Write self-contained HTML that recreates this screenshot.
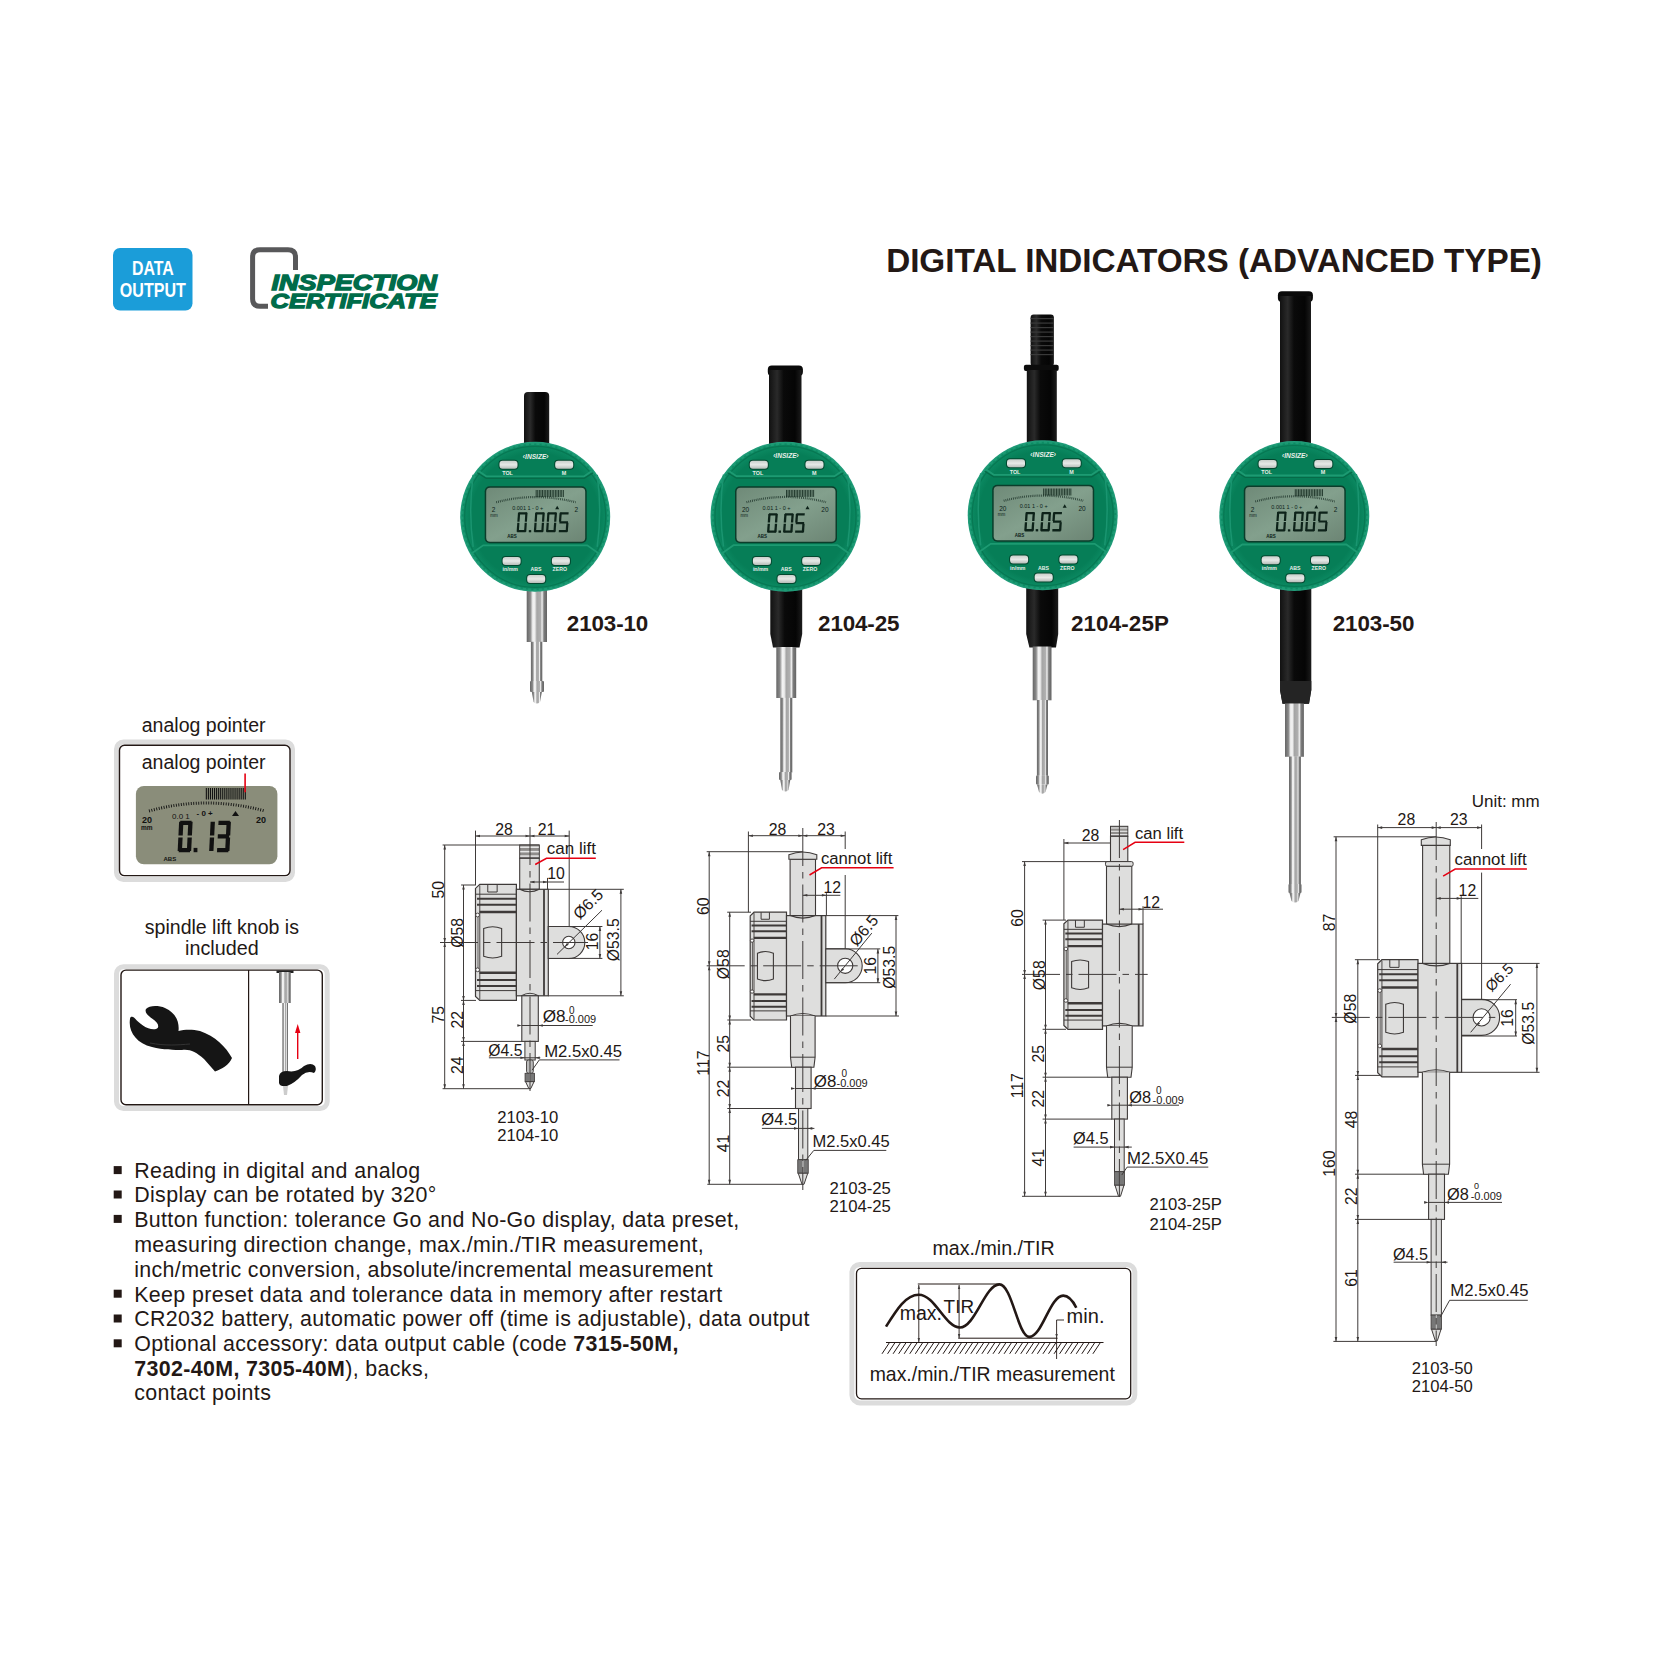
<!DOCTYPE html>
<html><head><meta charset="utf-8"><style>
html,body{margin:0;padding:0;background:#fff;}
svg{display:block;}
text{font-family:"Liberation Sans",sans-serif;}
</style></head><body>
<svg width="1653" height="1653" viewBox="0 0 1653 1653">
<rect width="1653" height="1653" fill="#fff"/>
<rect x="113" y="248" width="79.5" height="62.5" rx="7" fill="#1b9dd9"/>
<text x="131.95" y="275" font-size="19.3" font-weight="bold" fill="#fff" textLength="41.81" lengthAdjust="spacingAndGlyphs">DATA</text>
<text x="119.83" y="297" font-size="19.3" font-weight="bold" fill="#fff" textLength="65.98" lengthAdjust="spacingAndGlyphs">OUTPUT</text>
<path d="M268 306.3 H260 Q252.6 306.3 252.6 299 V257 Q252.6 249.8 260 249.8 H288 Q295.5 249.8 295.5 257 V270" fill="none" stroke="#58585a" stroke-width="5"/>
<g transform="translate(270.5 0) skewX(-14) scale(1 1)">
</g>
<text x="271.58" y="289.9" font-size="21.2" font-weight="bold" font-style="italic" fill="#006c4a" textLength="165.24" lengthAdjust="spacingAndGlyphs" stroke="#006c4a" stroke-width="1.3">INSPECTION</text>
<text x="270.48" y="308.4" font-size="20.4" font-weight="bold" font-style="italic" fill="#006c4a" textLength="166.29" lengthAdjust="spacingAndGlyphs" stroke="#006c4a" stroke-width="1.3">CERTIFICATE</text>
<text x="886.14" y="271.9" font-size="33.3" font-weight="bold" fill="#231815" textLength="655.82" lengthAdjust="spacing">DIGITAL INDICATORS (ADVANCED TYPE)</text>
<text x="566.82" y="630.9" font-size="22.4" font-weight="bold" fill="#231815" textLength="81.48" lengthAdjust="spacing">2103-10</text>
<text x="818.12" y="630.7" font-size="22.4" font-weight="bold" fill="#231815" textLength="81.35" lengthAdjust="spacing">2104-25</text>
<text x="1070.92" y="630.7" font-size="22.4" font-weight="bold" fill="#231815" textLength="98" lengthAdjust="spacing">2104-25P</text>
<text x="1332.72" y="630.7" font-size="22.4" font-weight="bold" fill="#231815" textLength="81.68" lengthAdjust="spacing">2103-50</text>
<defs>
<linearGradient id="blk" x1="0" x2="1" y1="0" y2="0">
 <stop offset="0" stop-color="#111"/><stop offset="0.25" stop-color="#2a2a2a"/><stop offset="0.45" stop-color="#0a0a0a"/><stop offset="0.8" stop-color="#050505"/><stop offset="1" stop-color="#1c1c1c"/>
</linearGradient>
<linearGradient id="met" x1="0" x2="1" y1="0" y2="0">
 <stop offset="0" stop-color="#666"/><stop offset="0.18" stop-color="#8a8a8a"/><stop offset="0.3" stop-color="#f2f2f2"/><stop offset="0.4" stop-color="#ededed"/><stop offset="0.5" stop-color="#a5a5a5"/><stop offset="0.68" stop-color="#b0b0b0"/><stop offset="0.76" stop-color="#f0f0f0"/><stop offset="0.85" stop-color="#7d7d7d"/><stop offset="1" stop-color="#646464"/>
</linearGradient>
<radialGradient id="face" cx="0.5" cy="0.5" r="0.5">
 <stop offset="0.85" stop-color="#067e57"/><stop offset="0.97" stop-color="#0d8c64"/><stop offset="1" stop-color="#2aa283"/>
</radialGradient>
<linearGradient id="lcdg" x1="0" x2="1" y1="0" y2="1">
 <stop offset="0" stop-color="#6f8a78"/><stop offset="0.5" stop-color="#83a08d"/><stop offset="1" stop-color="#6c8574"/>
</linearGradient>
<linearGradient id="btn" x1="0" x2="0" y1="0" y2="1">
 <stop offset="0" stop-color="#c9cfcb"/><stop offset="0.5" stop-color="#e6e9e7"/><stop offset="1" stop-color="#b7bdb9"/>
</linearGradient>
</defs>
<rect x="524" y="392" width="25.2" height="56" rx="4" fill="url(#blk)" />
<rect x="526.7" y="585" width="20.3" height="57" rx="0" fill="url(#met)" />
<rect x="530.9" y="641.8" width="11.4" height="40.2" rx="0" fill="url(#met)" />
<rect x="530" y="681" width="14" height="11" rx="1" fill="url(#met)" />
<path d="M531.8 692 L541.9 692 L540 702 Q536.8 705 533.6 702 Z" fill="url(#met)"/>
<circle cx="535.2" cy="516.8" r="75" fill="url(#face)"/><circle cx="535.2" cy="516.8" r="73.2" fill="none" stroke="#1f9c76" stroke-width="2.6" stroke-dasharray="3.2 2.2" opacity="0.8"/><circle cx="535.2" cy="516.8" r="70.5" fill="none" stroke="#05704d" stroke-width="1.2" opacity="0.7"/><path d="M478.2 470.8 L486.2 476.3 H584.2 L592.2 470.8" fill="none" stroke="#1d9a72" stroke-width="1.8"/><path d="M477.2 472.8 L486.2 478.3 H584.2 L593.2 472.8" fill="none" stroke="#066b48" stroke-width="1.2"/><path d="M471.2 553.8 L483.2 545.3 H587.2 L599.2 553.8" fill="none" stroke="#1d9a72" stroke-width="1.8"/><path d="M473.2 474.8 Q468.2 510.8 473.2 546.8" fill="none" stroke="#1a9570" stroke-width="1.5"/><path d="M597.2 474.8 Q602.2 510.8 597.2 546.8" fill="none" stroke="#1a9570" stroke-width="1.5"/><rect x="484.7" y="486.3" width="102" height="57" rx="5" fill="#0b3d2b" /><rect x="486.2" y="487.8" width="99" height="54" rx="4" fill="url(#lcdg)" /><rect x="535.7" y="490" width="0.9" height="7" rx="0" fill="#0d2219" opacity="0.85"/><rect x="537.3" y="490" width="0.9" height="7" rx="0" fill="#0d2219" opacity="0.85"/><rect x="538.9" y="490" width="0.9" height="7" rx="0" fill="#0d2219" opacity="0.85"/><rect x="540.5" y="490" width="0.9" height="7" rx="0" fill="#0d2219" opacity="0.85"/><rect x="542.1" y="490" width="0.9" height="7" rx="0" fill="#0d2219" opacity="0.85"/><rect x="543.7" y="490" width="0.9" height="7" rx="0" fill="#0d2219" opacity="0.85"/><rect x="545.3" y="490" width="0.9" height="7" rx="0" fill="#0d2219" opacity="0.85"/><rect x="546.9" y="490" width="0.9" height="7" rx="0" fill="#0d2219" opacity="0.85"/><rect x="548.5" y="490" width="0.9" height="7" rx="0" fill="#0d2219" opacity="0.85"/><rect x="550.1" y="490" width="0.9" height="7" rx="0" fill="#0d2219" opacity="0.85"/><rect x="551.7" y="490" width="0.9" height="7" rx="0" fill="#0d2219" opacity="0.85"/><rect x="553.3" y="490" width="0.9" height="7" rx="0" fill="#0d2219" opacity="0.85"/><rect x="554.9" y="490" width="0.9" height="7" rx="0" fill="#0d2219" opacity="0.85"/><rect x="556.5" y="490" width="0.9" height="7" rx="0" fill="#0d2219" opacity="0.85"/><rect x="558.1" y="490" width="0.9" height="7" rx="0" fill="#0d2219" opacity="0.85"/><rect x="559.7" y="490" width="0.9" height="7" rx="0" fill="#0d2219" opacity="0.85"/><rect x="561.3" y="490" width="0.9" height="7" rx="0" fill="#0d2219" opacity="0.85"/><rect x="562.9" y="490" width="0.9" height="7" rx="0" fill="#0d2219" opacity="0.85"/><path d="M496.2 502.3 Q535.2 491.8 575.7 502.3" fill="none" stroke="#0d2219" stroke-width="2.2" stroke-dasharray="0.8 1.1" opacity="0.75"/><text x="512.2" y="509.6" font-size="5.5" fill="#0d2219">0.001 1 - 0 +</text><path d="M555.2 509.3 l2 -3.5 l2 3.5z" fill="#0d2219"/><text x="491.7" y="512.3" font-size="6.5" fill="#0d2219">2</text><text x="578.2" y="512.3" font-size="6.5" fill="#0d2219" text-anchor="end">2</text><text x="490.2" y="517.3" font-size="4.5" fill="#0d2219">mm</text><text x="507.2" y="538.3" font-size="4.5" font-weight="bold" fill="#0d2219">ABS</text><polygon points="518.55,512.3 527.05,512.3 526.9,514.5 518.4,514.5" fill="#0d2219"/><polygon points="525.36,512.85 527.56,512.85 526.94,521.75 524.74,521.75" fill="#0d2219"/><polygon points="524.66,522.85 526.86,522.85 526.24,531.75 524.04,531.75" fill="#0d2219"/><polygon points="517.3,530.1 525.8,530.1 525.65,532.3 517.15,532.3" fill="#0d2219"/><polygon points="517.26,522.85 519.46,522.85 518.84,531.75 516.64,531.75" fill="#0d2219"/><polygon points="517.96,512.85 520.16,512.85 519.54,521.75 517.34,521.75" fill="#0d2219"/><rect x="528.8" y="530.1" width="2.4" height="2.2" fill="#0d2219"/><polygon points="535.75,512.3 544.25,512.3 544.1,514.5 535.6,514.5" fill="#0d2219"/><polygon points="542.56,512.85 544.76,512.85 544.14,521.75 541.94,521.75" fill="#0d2219"/><polygon points="541.86,522.85 544.06,522.85 543.44,531.75 541.24,531.75" fill="#0d2219"/><polygon points="534.5,530.1 543,530.1 542.85,532.3 534.35,532.3" fill="#0d2219"/><polygon points="534.46,522.85 536.66,522.85 536.04,531.75 533.84,531.75" fill="#0d2219"/><polygon points="535.16,512.85 537.36,512.85 536.74,521.75 534.54,521.75" fill="#0d2219"/><polygon points="547.95,512.3 556.45,512.3 556.3,514.5 547.8,514.5" fill="#0d2219"/><polygon points="554.76,512.85 556.96,512.85 556.34,521.75 554.14,521.75" fill="#0d2219"/><polygon points="554.06,522.85 556.26,522.85 555.64,531.75 553.44,531.75" fill="#0d2219"/><polygon points="546.7,530.1 555.2,530.1 555.05,532.3 546.55,532.3" fill="#0d2219"/><polygon points="546.66,522.85 548.86,522.85 548.24,531.75 546.04,531.75" fill="#0d2219"/><polygon points="547.36,512.85 549.56,512.85 548.94,521.75 546.74,521.75" fill="#0d2219"/><polygon points="560.15,512.3 568.65,512.3 568.5,514.5 560,514.5" fill="#0d2219"/><polygon points="559.56,512.85 561.76,512.85 561.14,521.75 558.94,521.75" fill="#0d2219"/><polygon points="559.53,521.2 568.03,521.2 567.87,523.4 559.37,523.4" fill="#0d2219"/><polygon points="566.26,522.85 568.46,522.85 567.84,531.75 565.64,531.75" fill="#0d2219"/><polygon points="558.9,530.1 567.4,530.1 567.25,532.3 558.75,532.3" fill="#0d2219"/><rect x="498.5" y="459.8" width="20" height="10" rx="4" fill="#02482f" /><rect x="499.5" y="460.8" width="18" height="8" rx="3" fill="url(#btn)" /><rect x="554.2" y="459.8" width="20" height="10" rx="4" fill="#02482f" /><rect x="555.2" y="460.8" width="18" height="8" rx="3" fill="url(#btn)" /><rect x="501.6" y="556" width="20" height="10" rx="4" fill="#02482f" /><rect x="502.6" y="557" width="18" height="8" rx="3" fill="url(#btn)" /><rect x="550.9" y="556" width="20" height="10" rx="4" fill="#02482f" /><rect x="551.9" y="557" width="18" height="8" rx="3" fill="url(#btn)" /><rect x="526.2" y="574" width="20" height="10" rx="4" fill="#02482f" /><rect x="527.2" y="575" width="18" height="8" rx="3" fill="url(#btn)" /><text x="502.2" y="475.2" font-size="5.4" font-weight="bold" fill="#e8efe9">TOL</text><text x="561.7" y="475.2" font-size="5.4" font-weight="bold" fill="#e8efe9">M</text><text x="502.6" y="571" font-size="5.2" font-weight="bold" fill="#e8efe9">in/mm</text><text x="530.5" y="571" font-size="5.2" font-weight="bold" fill="#e8efe9">ABS</text><text x="552.5" y="571" font-size="5.2" font-weight="bold" fill="#e8efe9">ZERO</text><text x="535.7" y="458.5" font-size="6.6" font-weight="bold" font-style="italic" fill="#e8efe9" text-anchor="middle">&#x2039;INSIZE&#x203a;</text>
<rect x="767.8" y="365.5" width="35.1" height="10.5" rx="4" fill="#0a0a0a" />
<rect x="769" y="370" width="32.5" height="80" rx="0" fill="url(#blk)" />
<path d="M770.3 580 H802.2 V634 L799.5 647.5 H773 L770.3 634 Z" fill="url(#blk)"/>
<rect x="776.3" y="647" width="19.9" height="51" rx="0" fill="url(#met)" />
<rect x="780.3" y="697.8" width="12" height="74.7" rx="0" fill="url(#met)" />
<rect x="779" y="772" width="12.6" height="8" rx="1" fill="url(#met)" />
<path d="M780.3 780 L790.3 780 L788.5 790 Q785.3 793 782 790 Z" fill="url(#met)"/>
<circle cx="785.5" cy="516.7" r="75" fill="url(#face)"/><circle cx="785.5" cy="516.7" r="73.2" fill="none" stroke="#1f9c76" stroke-width="2.6" stroke-dasharray="3.2 2.2" opacity="0.8"/><circle cx="785.5" cy="516.7" r="70.5" fill="none" stroke="#05704d" stroke-width="1.2" opacity="0.7"/><path d="M728.5 470.7 L736.5 476.2 H834.5 L842.5 470.7" fill="none" stroke="#1d9a72" stroke-width="1.8"/><path d="M727.5 472.7 L736.5 478.2 H834.5 L843.5 472.7" fill="none" stroke="#066b48" stroke-width="1.2"/><path d="M721.5 553.7 L733.5 545.2 H837.5 L849.5 553.7" fill="none" stroke="#1d9a72" stroke-width="1.8"/><path d="M723.5 474.7 Q718.5 510.7 723.5 546.7" fill="none" stroke="#1a9570" stroke-width="1.5"/><path d="M847.5 474.7 Q852.5 510.7 847.5 546.7" fill="none" stroke="#1a9570" stroke-width="1.5"/><rect x="735" y="486.2" width="102" height="57" rx="5" fill="#0b3d2b" /><rect x="736.5" y="487.7" width="99" height="54" rx="4" fill="url(#lcdg)" /><rect x="786" y="489.9" width="0.9" height="7" rx="0" fill="#0d2219" opacity="0.85"/><rect x="787.6" y="489.9" width="0.9" height="7" rx="0" fill="#0d2219" opacity="0.85"/><rect x="789.2" y="489.9" width="0.9" height="7" rx="0" fill="#0d2219" opacity="0.85"/><rect x="790.8" y="489.9" width="0.9" height="7" rx="0" fill="#0d2219" opacity="0.85"/><rect x="792.4" y="489.9" width="0.9" height="7" rx="0" fill="#0d2219" opacity="0.85"/><rect x="794" y="489.9" width="0.9" height="7" rx="0" fill="#0d2219" opacity="0.85"/><rect x="795.6" y="489.9" width="0.9" height="7" rx="0" fill="#0d2219" opacity="0.85"/><rect x="797.2" y="489.9" width="0.9" height="7" rx="0" fill="#0d2219" opacity="0.85"/><rect x="798.8" y="489.9" width="0.9" height="7" rx="0" fill="#0d2219" opacity="0.85"/><rect x="800.4" y="489.9" width="0.9" height="7" rx="0" fill="#0d2219" opacity="0.85"/><rect x="802" y="489.9" width="0.9" height="7" rx="0" fill="#0d2219" opacity="0.85"/><rect x="803.6" y="489.9" width="0.9" height="7" rx="0" fill="#0d2219" opacity="0.85"/><rect x="805.2" y="489.9" width="0.9" height="7" rx="0" fill="#0d2219" opacity="0.85"/><rect x="806.8" y="489.9" width="0.9" height="7" rx="0" fill="#0d2219" opacity="0.85"/><rect x="808.4" y="489.9" width="0.9" height="7" rx="0" fill="#0d2219" opacity="0.85"/><rect x="810" y="489.9" width="0.9" height="7" rx="0" fill="#0d2219" opacity="0.85"/><rect x="811.6" y="489.9" width="0.9" height="7" rx="0" fill="#0d2219" opacity="0.85"/><rect x="813.2" y="489.9" width="0.9" height="7" rx="0" fill="#0d2219" opacity="0.85"/><path d="M746.5 502.2 Q785.5 491.7 826 502.2" fill="none" stroke="#0d2219" stroke-width="2.2" stroke-dasharray="0.8 1.1" opacity="0.75"/><text x="762.5" y="509.5" font-size="5.5" fill="#0d2219">0.01 1  - 0 +</text><path d="M805.5 509.2 l2 -3.5 l2 3.5z" fill="#0d2219"/><text x="742" y="512.2" font-size="6.5" fill="#0d2219">20</text><text x="828.5" y="512.2" font-size="6.5" fill="#0d2219" text-anchor="end">20</text><text x="740.5" y="517.2" font-size="4.5" fill="#0d2219">mm</text><text x="757.5" y="538.2" font-size="4.5" font-weight="bold" fill="#0d2219">ABS</text><polygon points="768.94,513.3 777.29,513.3 777.13,515.6 768.78,515.6" fill="#0d2219"/><polygon points="775.52,513.88 777.82,513.88 777.22,522.48 774.92,522.48" fill="#0d2219"/><polygon points="774.84,523.63 777.14,523.63 776.54,532.23 774.24,532.23" fill="#0d2219"/><polygon points="767.74,530.5 776.09,530.5 775.92,532.8 767.58,532.8" fill="#0d2219"/><polygon points="767.64,523.63 769.94,523.63 769.34,532.23 767.04,532.23" fill="#0d2219"/><polygon points="768.32,513.88 770.62,513.88 770.02,522.48 767.72,522.48" fill="#0d2219"/><rect x="778.5" y="530.5" width="2.5" height="2.3" fill="#0d2219"/><polygon points="784.94,513.3 793.29,513.3 793.13,515.6 784.78,515.6" fill="#0d2219"/><polygon points="791.52,513.88 793.82,513.88 793.22,522.48 790.92,522.48" fill="#0d2219"/><polygon points="790.84,523.63 793.14,523.63 792.54,532.23 790.24,532.23" fill="#0d2219"/><polygon points="783.74,530.5 792.09,530.5 791.92,532.8 783.58,532.8" fill="#0d2219"/><polygon points="783.64,523.63 785.94,523.63 785.34,532.23 783.04,532.23" fill="#0d2219"/><polygon points="784.32,513.88 786.62,513.88 786.02,522.48 783.72,522.48" fill="#0d2219"/><polygon points="796.44,513.3 804.79,513.3 804.63,515.6 796.28,515.6" fill="#0d2219"/><polygon points="795.82,513.88 798.12,513.88 797.52,522.48 795.22,522.48" fill="#0d2219"/><polygon points="795.84,521.9 804.19,521.9 804.03,524.2 795.68,524.2" fill="#0d2219"/><polygon points="802.34,523.63 804.64,523.63 804.04,532.23 801.74,532.23" fill="#0d2219"/><polygon points="795.24,530.5 803.59,530.5 803.42,532.8 795.08,532.8" fill="#0d2219"/><rect x="748.8" y="459.7" width="20" height="10" rx="4" fill="#02482f" /><rect x="749.8" y="460.7" width="18" height="8" rx="3" fill="url(#btn)" /><rect x="804.5" y="459.7" width="20" height="10" rx="4" fill="#02482f" /><rect x="805.5" y="460.7" width="18" height="8" rx="3" fill="url(#btn)" /><rect x="751.9" y="555.9" width="20" height="10" rx="4" fill="#02482f" /><rect x="752.9" y="556.9" width="18" height="8" rx="3" fill="url(#btn)" /><rect x="801.2" y="555.9" width="20" height="10" rx="4" fill="#02482f" /><rect x="802.2" y="556.9" width="18" height="8" rx="3" fill="url(#btn)" /><rect x="776.5" y="573.9" width="20" height="10" rx="4" fill="#02482f" /><rect x="777.5" y="574.9" width="18" height="8" rx="3" fill="url(#btn)" /><text x="752.5" y="475.1" font-size="5.4" font-weight="bold" fill="#e8efe9">TOL</text><text x="812" y="475.1" font-size="5.4" font-weight="bold" fill="#e8efe9">M</text><text x="752.9" y="570.9" font-size="5.2" font-weight="bold" fill="#e8efe9">in/mm</text><text x="780.8" y="570.9" font-size="5.2" font-weight="bold" fill="#e8efe9">ABS</text><text x="802.8" y="570.9" font-size="5.2" font-weight="bold" fill="#e8efe9">ZERO</text><text x="786" y="458.4" font-size="6.6" font-weight="bold" font-style="italic" fill="#e8efe9" text-anchor="middle">&#x2039;INSIZE&#x203a;</text>
<rect x="1030.6" y="314.5" width="23.3" height="51.5" rx="3" fill="url(#blk)" />
<rect x="1030.6" y="318" width="23.3" height="1.2" rx="0" fill="#3a3a3a" />
<rect x="1030.6" y="322.5" width="23.3" height="1.2" rx="0" fill="#3a3a3a" />
<rect x="1030.6" y="327" width="23.3" height="1.2" rx="0" fill="#3a3a3a" />
<rect x="1030.6" y="331.5" width="23.3" height="1.2" rx="0" fill="#3a3a3a" />
<rect x="1030.6" y="336" width="23.3" height="1.2" rx="0" fill="#3a3a3a" />
<rect x="1030.6" y="340.5" width="23.3" height="1.2" rx="0" fill="#3a3a3a" />
<rect x="1030.6" y="345" width="23.3" height="1.2" rx="0" fill="#3a3a3a" />
<rect x="1030.6" y="349.5" width="23.3" height="1.2" rx="0" fill="#3a3a3a" />
<rect x="1030.6" y="354" width="23.3" height="1.2" rx="0" fill="#3a3a3a" />
<rect x="1023.9" y="364.8" width="34.8" height="6.2" rx="2" fill="#0c0c0c" />
<rect x="1026.8" y="370" width="30" height="80" rx="0" fill="url(#blk)" />
<path d="M1026.2 580 H1058.2 V634 L1056 647.4 H1029.4 L1026.2 634 Z" fill="url(#blk)"/>
<rect x="1032.7" y="646.5" width="18.8" height="53.8" rx="0" fill="url(#met)" />
<rect x="1036.9" y="700" width="11.1" height="75.8" rx="0" fill="url(#met)" />
<rect x="1036" y="775.5" width="12.8" height="9" rx="1" fill="url(#met)" />
<path d="M1037 784.5 L1047.5 784.5 L1045.5 792 Q1042.3 795.5 1039 792 Z" fill="url(#met)"/>
<circle cx="1042.7" cy="515.3" r="75" fill="url(#face)"/><circle cx="1042.7" cy="515.3" r="73.2" fill="none" stroke="#1f9c76" stroke-width="2.6" stroke-dasharray="3.2 2.2" opacity="0.8"/><circle cx="1042.7" cy="515.3" r="70.5" fill="none" stroke="#05704d" stroke-width="1.2" opacity="0.7"/><path d="M985.7 469.3 L993.7 474.8 H1091.7 L1099.7 469.3" fill="none" stroke="#1d9a72" stroke-width="1.8"/><path d="M984.7 471.3 L993.7 476.8 H1091.7 L1100.7 471.3" fill="none" stroke="#066b48" stroke-width="1.2"/><path d="M978.7 552.3 L990.7 543.8 H1094.7 L1106.7 552.3" fill="none" stroke="#1d9a72" stroke-width="1.8"/><path d="M980.7 473.3 Q975.7 509.3 980.7 545.3" fill="none" stroke="#1a9570" stroke-width="1.5"/><path d="M1104.7 473.3 Q1109.7 509.3 1104.7 545.3" fill="none" stroke="#1a9570" stroke-width="1.5"/><rect x="992.2" y="484.8" width="102" height="57" rx="5" fill="#0b3d2b" /><rect x="993.7" y="486.3" width="99" height="54" rx="4" fill="url(#lcdg)" /><rect x="1043.2" y="488.5" width="0.9" height="7" rx="0" fill="#0d2219" opacity="0.85"/><rect x="1044.8" y="488.5" width="0.9" height="7" rx="0" fill="#0d2219" opacity="0.85"/><rect x="1046.4" y="488.5" width="0.9" height="7" rx="0" fill="#0d2219" opacity="0.85"/><rect x="1048" y="488.5" width="0.9" height="7" rx="0" fill="#0d2219" opacity="0.85"/><rect x="1049.6" y="488.5" width="0.9" height="7" rx="0" fill="#0d2219" opacity="0.85"/><rect x="1051.2" y="488.5" width="0.9" height="7" rx="0" fill="#0d2219" opacity="0.85"/><rect x="1052.8" y="488.5" width="0.9" height="7" rx="0" fill="#0d2219" opacity="0.85"/><rect x="1054.4" y="488.5" width="0.9" height="7" rx="0" fill="#0d2219" opacity="0.85"/><rect x="1056" y="488.5" width="0.9" height="7" rx="0" fill="#0d2219" opacity="0.85"/><rect x="1057.6" y="488.5" width="0.9" height="7" rx="0" fill="#0d2219" opacity="0.85"/><rect x="1059.2" y="488.5" width="0.9" height="7" rx="0" fill="#0d2219" opacity="0.85"/><rect x="1060.8" y="488.5" width="0.9" height="7" rx="0" fill="#0d2219" opacity="0.85"/><rect x="1062.4" y="488.5" width="0.9" height="7" rx="0" fill="#0d2219" opacity="0.85"/><rect x="1064" y="488.5" width="0.9" height="7" rx="0" fill="#0d2219" opacity="0.85"/><rect x="1065.6" y="488.5" width="0.9" height="7" rx="0" fill="#0d2219" opacity="0.85"/><rect x="1067.2" y="488.5" width="0.9" height="7" rx="0" fill="#0d2219" opacity="0.85"/><rect x="1068.8" y="488.5" width="0.9" height="7" rx="0" fill="#0d2219" opacity="0.85"/><rect x="1070.4" y="488.5" width="0.9" height="7" rx="0" fill="#0d2219" opacity="0.85"/><path d="M1003.7 500.8 Q1042.7 490.3 1083.2 500.8" fill="none" stroke="#0d2219" stroke-width="2.2" stroke-dasharray="0.8 1.1" opacity="0.75"/><text x="1019.7" y="508.1" font-size="5.5" fill="#0d2219">0.01 1  - 0 +</text><path d="M1062.7 507.8 l2 -3.5 l2 3.5z" fill="#0d2219"/><text x="999.2" y="510.8" font-size="6.5" fill="#0d2219">20</text><text x="1085.7" y="510.8" font-size="6.5" fill="#0d2219" text-anchor="end">20</text><text x="997.7" y="515.8" font-size="4.5" fill="#0d2219">mm</text><text x="1014.7" y="536.8" font-size="4.5" font-weight="bold" fill="#0d2219">ABS</text><polygon points="1026.14,511.9 1034.49,511.9 1034.33,514.2 1025.98,514.2" fill="#0d2219"/><polygon points="1032.72,512.48 1035.02,512.48 1034.42,521.07 1032.12,521.07" fill="#0d2219"/><polygon points="1032.04,522.23 1034.34,522.23 1033.74,530.82 1031.44,530.82" fill="#0d2219"/><polygon points="1024.94,529.1 1033.29,529.1 1033.12,531.4 1024.78,531.4" fill="#0d2219"/><polygon points="1024.84,522.23 1027.14,522.23 1026.54,530.82 1024.24,530.82" fill="#0d2219"/><polygon points="1025.52,512.48 1027.82,512.48 1027.22,521.07 1024.92,521.07" fill="#0d2219"/><rect x="1035.7" y="529.1" width="2.5" height="2.3" fill="#0d2219"/><polygon points="1042.14,511.9 1050.49,511.9 1050.33,514.2 1041.98,514.2" fill="#0d2219"/><polygon points="1048.72,512.48 1051.02,512.48 1050.42,521.07 1048.12,521.07" fill="#0d2219"/><polygon points="1048.04,522.23 1050.34,522.23 1049.74,530.82 1047.44,530.82" fill="#0d2219"/><polygon points="1040.94,529.1 1049.29,529.1 1049.12,531.4 1040.78,531.4" fill="#0d2219"/><polygon points="1040.84,522.23 1043.14,522.23 1042.54,530.82 1040.24,530.82" fill="#0d2219"/><polygon points="1041.52,512.48 1043.82,512.48 1043.22,521.07 1040.92,521.07" fill="#0d2219"/><polygon points="1053.64,511.9 1061.99,511.9 1061.83,514.2 1053.48,514.2" fill="#0d2219"/><polygon points="1053.02,512.48 1055.32,512.48 1054.72,521.07 1052.42,521.07" fill="#0d2219"/><polygon points="1053.04,520.5 1061.39,520.5 1061.23,522.8 1052.88,522.8" fill="#0d2219"/><polygon points="1059.54,522.23 1061.84,522.23 1061.24,530.82 1058.94,530.82" fill="#0d2219"/><polygon points="1052.44,529.1 1060.79,529.1 1060.62,531.4 1052.28,531.4" fill="#0d2219"/><rect x="1006" y="458.3" width="20" height="10" rx="4" fill="#02482f" /><rect x="1007" y="459.3" width="18" height="8" rx="3" fill="url(#btn)" /><rect x="1061.7" y="458.3" width="20" height="10" rx="4" fill="#02482f" /><rect x="1062.7" y="459.3" width="18" height="8" rx="3" fill="url(#btn)" /><rect x="1009.1" y="554.5" width="20" height="10" rx="4" fill="#02482f" /><rect x="1010.1" y="555.5" width="18" height="8" rx="3" fill="url(#btn)" /><rect x="1058.4" y="554.5" width="20" height="10" rx="4" fill="#02482f" /><rect x="1059.4" y="555.5" width="18" height="8" rx="3" fill="url(#btn)" /><rect x="1033.7" y="572.5" width="20" height="10" rx="4" fill="#02482f" /><rect x="1034.7" y="573.5" width="18" height="8" rx="3" fill="url(#btn)" /><text x="1009.7" y="473.7" font-size="5.4" font-weight="bold" fill="#e8efe9">TOL</text><text x="1069.2" y="473.7" font-size="5.4" font-weight="bold" fill="#e8efe9">M</text><text x="1010.1" y="569.5" font-size="5.2" font-weight="bold" fill="#e8efe9">in/mm</text><text x="1038" y="569.5" font-size="5.2" font-weight="bold" fill="#e8efe9">ABS</text><text x="1060" y="569.5" font-size="5.2" font-weight="bold" fill="#e8efe9">ZERO</text><text x="1043.2" y="457" font-size="6.6" font-weight="bold" font-style="italic" fill="#e8efe9" text-anchor="middle">&#x2039;INSIZE&#x203a;</text>
<rect x="1277.9" y="291.3" width="35" height="10.7" rx="4" fill="#0a0a0a" />
<rect x="1280" y="296" width="31" height="154" rx="0" fill="url(#blk)" />
<path d="M1280 580 H1311.3 V690 L1309 703.7 H1282.5 L1280 690 Z" fill="url(#blk)"/>
<path d="M1280 681 H1311.3 V690 L1309 703.7 H1282.5 L1280 690 Z" fill="#242424"/>
<rect x="1285" y="703.5" width="18.9" height="53.3" rx="0" fill="url(#met)" />
<rect x="1289" y="756.5" width="11.9" height="127.8" rx="0" fill="url(#met)" />
<rect x="1288.5" y="884" width="13" height="9" rx="1" fill="url(#met)" />
<path d="M1289.5 893 L1300.5 893 L1298.5 901 Q1295 904 1291.5 901 Z" fill="url(#met)"/>
<circle cx="1294.3" cy="516" r="75" fill="url(#face)"/><circle cx="1294.3" cy="516" r="73.2" fill="none" stroke="#1f9c76" stroke-width="2.6" stroke-dasharray="3.2 2.2" opacity="0.8"/><circle cx="1294.3" cy="516" r="70.5" fill="none" stroke="#05704d" stroke-width="1.2" opacity="0.7"/><path d="M1237.3 470 L1245.3 475.5 H1343.3 L1351.3 470" fill="none" stroke="#1d9a72" stroke-width="1.8"/><path d="M1236.3 472 L1245.3 477.5 H1343.3 L1352.3 472" fill="none" stroke="#066b48" stroke-width="1.2"/><path d="M1230.3 553 L1242.3 544.5 H1346.3 L1358.3 553" fill="none" stroke="#1d9a72" stroke-width="1.8"/><path d="M1232.3 474 Q1227.3 510 1232.3 546" fill="none" stroke="#1a9570" stroke-width="1.5"/><path d="M1356.3 474 Q1361.3 510 1356.3 546" fill="none" stroke="#1a9570" stroke-width="1.5"/><rect x="1243.8" y="485.5" width="102" height="57" rx="5" fill="#0b3d2b" /><rect x="1245.3" y="487" width="99" height="54" rx="4" fill="url(#lcdg)" /><rect x="1294.8" y="489.2" width="0.9" height="7" rx="0" fill="#0d2219" opacity="0.85"/><rect x="1296.4" y="489.2" width="0.9" height="7" rx="0" fill="#0d2219" opacity="0.85"/><rect x="1298" y="489.2" width="0.9" height="7" rx="0" fill="#0d2219" opacity="0.85"/><rect x="1299.6" y="489.2" width="0.9" height="7" rx="0" fill="#0d2219" opacity="0.85"/><rect x="1301.2" y="489.2" width="0.9" height="7" rx="0" fill="#0d2219" opacity="0.85"/><rect x="1302.8" y="489.2" width="0.9" height="7" rx="0" fill="#0d2219" opacity="0.85"/><rect x="1304.4" y="489.2" width="0.9" height="7" rx="0" fill="#0d2219" opacity="0.85"/><rect x="1306" y="489.2" width="0.9" height="7" rx="0" fill="#0d2219" opacity="0.85"/><rect x="1307.6" y="489.2" width="0.9" height="7" rx="0" fill="#0d2219" opacity="0.85"/><rect x="1309.2" y="489.2" width="0.9" height="7" rx="0" fill="#0d2219" opacity="0.85"/><rect x="1310.8" y="489.2" width="0.9" height="7" rx="0" fill="#0d2219" opacity="0.85"/><rect x="1312.4" y="489.2" width="0.9" height="7" rx="0" fill="#0d2219" opacity="0.85"/><rect x="1314" y="489.2" width="0.9" height="7" rx="0" fill="#0d2219" opacity="0.85"/><rect x="1315.6" y="489.2" width="0.9" height="7" rx="0" fill="#0d2219" opacity="0.85"/><rect x="1317.2" y="489.2" width="0.9" height="7" rx="0" fill="#0d2219" opacity="0.85"/><rect x="1318.8" y="489.2" width="0.9" height="7" rx="0" fill="#0d2219" opacity="0.85"/><rect x="1320.4" y="489.2" width="0.9" height="7" rx="0" fill="#0d2219" opacity="0.85"/><rect x="1322" y="489.2" width="0.9" height="7" rx="0" fill="#0d2219" opacity="0.85"/><path d="M1255.3 501.5 Q1294.3 491 1334.8 501.5" fill="none" stroke="#0d2219" stroke-width="2.2" stroke-dasharray="0.8 1.1" opacity="0.75"/><text x="1271.3" y="508.8" font-size="5.5" fill="#0d2219">0.001 1 - 0 +</text><path d="M1314.3 508.5 l2 -3.5 l2 3.5z" fill="#0d2219"/><text x="1250.8" y="511.5" font-size="6.5" fill="#0d2219">2</text><text x="1337.3" y="511.5" font-size="6.5" fill="#0d2219" text-anchor="end">2</text><text x="1249.3" y="516.5" font-size="4.5" fill="#0d2219">mm</text><text x="1266.3" y="537.5" font-size="4.5" font-weight="bold" fill="#0d2219">ABS</text><polygon points="1277.65,511.5 1286.15,511.5 1286,513.7 1277.5,513.7" fill="#0d2219"/><polygon points="1284.46,512.05 1286.66,512.05 1286.04,520.95 1283.84,520.95" fill="#0d2219"/><polygon points="1283.76,522.05 1285.96,522.05 1285.34,530.95 1283.14,530.95" fill="#0d2219"/><polygon points="1276.4,529.3 1284.9,529.3 1284.75,531.5 1276.25,531.5" fill="#0d2219"/><polygon points="1276.36,522.05 1278.56,522.05 1277.94,530.95 1275.74,530.95" fill="#0d2219"/><polygon points="1277.06,512.05 1279.26,512.05 1278.64,520.95 1276.44,520.95" fill="#0d2219"/><rect x="1287.9" y="529.3" width="2.4" height="2.2" fill="#0d2219"/><polygon points="1294.85,511.5 1303.35,511.5 1303.2,513.7 1294.7,513.7" fill="#0d2219"/><polygon points="1301.66,512.05 1303.86,512.05 1303.24,520.95 1301.04,520.95" fill="#0d2219"/><polygon points="1300.96,522.05 1303.16,522.05 1302.54,530.95 1300.34,530.95" fill="#0d2219"/><polygon points="1293.6,529.3 1302.1,529.3 1301.95,531.5 1293.45,531.5" fill="#0d2219"/><polygon points="1293.56,522.05 1295.76,522.05 1295.14,530.95 1292.94,530.95" fill="#0d2219"/><polygon points="1294.26,512.05 1296.46,512.05 1295.84,520.95 1293.64,520.95" fill="#0d2219"/><polygon points="1307.05,511.5 1315.55,511.5 1315.4,513.7 1306.9,513.7" fill="#0d2219"/><polygon points="1313.86,512.05 1316.06,512.05 1315.44,520.95 1313.24,520.95" fill="#0d2219"/><polygon points="1313.16,522.05 1315.36,522.05 1314.74,530.95 1312.54,530.95" fill="#0d2219"/><polygon points="1305.8,529.3 1314.3,529.3 1314.15,531.5 1305.65,531.5" fill="#0d2219"/><polygon points="1305.76,522.05 1307.96,522.05 1307.34,530.95 1305.14,530.95" fill="#0d2219"/><polygon points="1306.46,512.05 1308.66,512.05 1308.04,520.95 1305.84,520.95" fill="#0d2219"/><polygon points="1319.25,511.5 1327.75,511.5 1327.6,513.7 1319.1,513.7" fill="#0d2219"/><polygon points="1318.66,512.05 1320.86,512.05 1320.24,520.95 1318.04,520.95" fill="#0d2219"/><polygon points="1318.63,520.4 1327.13,520.4 1326.97,522.6 1318.47,522.6" fill="#0d2219"/><polygon points="1325.36,522.05 1327.56,522.05 1326.94,530.95 1324.74,530.95" fill="#0d2219"/><polygon points="1318,529.3 1326.5,529.3 1326.35,531.5 1317.85,531.5" fill="#0d2219"/><rect x="1257.6" y="459" width="20" height="10" rx="4" fill="#02482f" /><rect x="1258.6" y="460" width="18" height="8" rx="3" fill="url(#btn)" /><rect x="1313.3" y="459" width="20" height="10" rx="4" fill="#02482f" /><rect x="1314.3" y="460" width="18" height="8" rx="3" fill="url(#btn)" /><rect x="1260.7" y="555.2" width="20" height="10" rx="4" fill="#02482f" /><rect x="1261.7" y="556.2" width="18" height="8" rx="3" fill="url(#btn)" /><rect x="1310" y="555.2" width="20" height="10" rx="4" fill="#02482f" /><rect x="1311" y="556.2" width="18" height="8" rx="3" fill="url(#btn)" /><rect x="1285.3" y="573.2" width="20" height="10" rx="4" fill="#02482f" /><rect x="1286.3" y="574.2" width="18" height="8" rx="3" fill="url(#btn)" /><text x="1261.3" y="474.4" font-size="5.4" font-weight="bold" fill="#e8efe9">TOL</text><text x="1320.8" y="474.4" font-size="5.4" font-weight="bold" fill="#e8efe9">M</text><text x="1261.7" y="570.2" font-size="5.2" font-weight="bold" fill="#e8efe9">in/mm</text><text x="1289.6" y="570.2" font-size="5.2" font-weight="bold" fill="#e8efe9">ABS</text><text x="1311.6" y="570.2" font-size="5.2" font-weight="bold" fill="#e8efe9">ZERO</text><text x="1294.8" y="457.7" font-size="6.6" font-weight="bold" font-style="italic" fill="#e8efe9" text-anchor="middle">&#x2039;INSIZE&#x203a;</text>
<text x="141.72" y="731.8" font-size="19.55" fill="#231815">analog pointer</text>
<rect x="116.5" y="742" width="176" height="137.5" rx="7" fill="none" stroke="#dcdcdc" stroke-width="5"/>
<rect x="119.5" y="745.3" width="170.5" height="130.3" rx="5" fill="#fff" stroke="#231815" stroke-width="1.4"/>
<text x="141.72" y="768.7" font-size="19.55" fill="#231815">analog pointer</text>
<rect x="135.9" y="786" width="141.5" height="78.3" rx="8" fill="#8a8d7a"/><rect x="205.8" y="788" width="1.1" height="11.5" fill="#111"/><rect x="207.85" y="788" width="1.1" height="11.5" fill="#111"/><rect x="209.9" y="788" width="1.1" height="11.5" fill="#111"/><rect x="211.95" y="788" width="1.1" height="11.5" fill="#111"/><rect x="214" y="788" width="1.1" height="11.5" fill="#111"/><rect x="216.05" y="788" width="1.1" height="11.5" fill="#111"/><rect x="218.1" y="788" width="1.1" height="11.5" fill="#111"/><rect x="220.15" y="788" width="1.1" height="11.5" fill="#111"/><rect x="222.2" y="788" width="1.1" height="11.5" fill="#111"/><rect x="224.25" y="788" width="1.1" height="11.5" fill="#111"/><rect x="226.3" y="788" width="1.1" height="11.5" fill="#111"/><rect x="228.35" y="788" width="1.1" height="11.5" fill="#111"/><rect x="230.4" y="788" width="1.1" height="11.5" fill="#111"/><rect x="232.45" y="788" width="1.1" height="11.5" fill="#111"/><rect x="234.5" y="788" width="1.1" height="11.5" fill="#111"/><rect x="236.55" y="788" width="1.1" height="11.5" fill="#111"/><rect x="238.6" y="788" width="1.1" height="11.5" fill="#111"/><rect x="240.65" y="788" width="1.1" height="11.5" fill="#111"/><rect x="242.7" y="788" width="1.1" height="11.5" fill="#111"/><rect x="244.75" y="788" width="1.1" height="11.5" fill="#111"/><path d="M149 811 Q206 795 265 811" fill="none" stroke="#111" stroke-width="3" stroke-dasharray="0.9 1.6"/><text x="142" y="822.5" font-size="9" font-weight="bold" fill="#111">20</text><text x="141" y="829.5" font-size="6.5" font-weight="bold" fill="#111">mm</text><text x="256" y="822.5" font-size="9" font-weight="bold" fill="#111">20</text><text x="172" y="818.5" font-size="8" fill="#111">0.0 1</text><text x="196.5" y="815.5" font-size="8" font-weight="bold" fill="#111">- 0 +</text><path d="M232 816 l3.5 -5 l3.5 5z" fill="#111"/><text x="163.5" y="860.5" font-size="6" font-weight="bold" fill="#111">ABS</text><polygon points="180.25,820.7 191.6,820.7 191.39,825 180.03,825" fill="#111"/><polygon points="188.32,821.78 192.62,821.78 191.94,835.38 187.64,835.38" fill="#111"/><polygon points="187.53,837.53 191.83,837.53 191.15,851.12 186.85,851.12" fill="#111"/><polygon points="178.89,847.9 190.24,847.9 190.03,852.2 178.67,852.2" fill="#111"/><polygon points="178.33,837.53 182.63,837.53 181.95,851.12 177.65,851.12" fill="#111"/><polygon points="179.12,821.78 183.42,821.78 182.74,835.38 178.44,835.38" fill="#111"/><rect x="193.6" y="847.9" width="3.8" height="4.3" fill="#111"/><polygon points="210.62,821.78 214.92,821.78 214.24,835.38 209.94,835.38" fill="#111"/><polygon points="209.83,837.53 214.13,837.53 213.45,851.12 209.15,851.12" fill="#111"/><polygon points="218.55,820.7 229.9,820.7 229.69,825 218.34,825" fill="#111"/><polygon points="226.62,821.78 230.92,821.78 230.24,835.38 225.94,835.38" fill="#111"/><polygon points="217.87,834.3 229.22,834.3 229.01,838.6 217.66,838.6" fill="#111"/><polygon points="225.83,837.53 230.13,837.53 229.45,851.12 225.15,851.12" fill="#111"/><polygon points="217.19,847.9 228.54,847.9 228.33,852.2 216.97,852.2" fill="#111"/>
<line x1="245.1" y1="773.5" x2="245.1" y2="792.3" stroke="#e60012" stroke-width="1.6"/>
<text x="144.81" y="933.7" font-size="19.54" fill="#231815">spindle lift knob is</text>
<text x="185.12" y="955.2" font-size="19.75" fill="#231815">included</text>
<rect x="116.5" y="966.8" width="210.7" height="141.7" rx="7" fill="none" stroke="#dcdcdc" stroke-width="5"/>
<rect x="121" y="970.1" width="201.3" height="134.7" rx="5" fill="#fff" stroke="#231815" stroke-width="1.4"/>
<line x1="248.6" y1="970.1" x2="248.6" y2="1104.8" stroke="#231815" stroke-width="1.2"/>
<path d="M130 1019 C128 1031 136 1043 152 1047 C163 1050 175 1050 182 1050 C190 1049 196 1052 204 1059 L215 1071.5 C222 1069 229 1065 232 1058 C226 1047 215 1036 200 1031 C192 1029 184 1029.5 178.5 1031 C179.5 1022 176 1013 165 1008 C158 1005 149 1005.5 146 1009 C144.5 1012 147 1015 152 1018.5 C158.5 1022.5 160 1027.5 156 1029 C148 1030.5 140 1024 135 1018.5 C133 1016 130 1016 130 1019 Z" fill="#151515"/><path d="M150 1043 C165 1046 178 1045 190 1044" stroke="#333" stroke-width="1" fill="none"/><rect x="276.5" y="970.5" width="17" height="2.5" fill="#222"/><rect x="279" y="972" width="11.7" height="31" fill="url(#met)"/><rect x="282.4" y="1003" width="5.6" height="78" fill="url(#met)"/><path d="M279 1076 Q280 1071 287 1071 Q297 1073 304 1066 Q311 1062 315 1066 Q317 1070 314 1073 Q308 1070 302 1075 Q295 1083 287 1086 Q280 1087 279 1083 Z" fill="#151515"/><path d="M283 1086 h5 l-1 9 h-3z" fill="#ccc"/><line x1="297.7" y1="1059" x2="297.7" y2="1030" stroke="#e60012" stroke-width="1.4"/><path d="M295 1033 L297.7 1024 L300.4 1033 Z" fill="#e60012"/>
<line x1="442.6" y1="845" x2="539.3" y2="845" stroke="#3e3a39" stroke-width="1" />
<line x1="461.1" y1="885" x2="476" y2="885" stroke="#3e3a39" stroke-width="1" />
<line x1="442.6" y1="1088.7" x2="531" y2="1088.7" stroke="#3e3a39" stroke-width="1" />
<line x1="461" y1="1000.4" x2="476" y2="1000.4" stroke="#3e3a39" stroke-width="1" />
<line x1="461" y1="1041.4" x2="522" y2="1041.4" stroke="#3e3a39" stroke-width="1" />
<line x1="475.5" y1="830.6" x2="475.5" y2="885" stroke="#3e3a39" stroke-width="1" />
<line x1="569.2" y1="830.6" x2="569.2" y2="942.5" stroke="#3e3a39" stroke-width="1" />
<line x1="475.5" y1="836" x2="530" y2="836" stroke="#3e3a39" stroke-width="1" /><path d="M475.5 836 L480 834.7 L480 837.3 Z" fill="#3e3a39"/><path d="M530 836 L525.5 837.3 L525.5 834.7 Z" fill="#3e3a39"/><line x1="530" y1="836" x2="569.2" y2="836" stroke="#3e3a39" stroke-width="1" /><path d="M530 836 L534.5 834.7 L534.5 837.3 Z" fill="#3e3a39"/><path d="M569.2 836 L564.7 837.3 L564.7 834.7 Z" fill="#3e3a39"/>
<line x1="444.7" y1="845" x2="444.7" y2="942.5" stroke="#3e3a39" stroke-width="1" /><path d="M444.7 845 L446 849.5 L443.4 849.5 Z" fill="#3e3a39"/><path d="M444.7 942.5 L443.4 938 L446 938 Z" fill="#3e3a39"/><line x1="444.7" y1="942.5" x2="444.7" y2="1088.7" stroke="#3e3a39" stroke-width="1" /><path d="M444.7 942.5 L446 947 L443.4 947 Z" fill="#3e3a39"/><path d="M444.7 1088.7 L443.4 1084.2 L446 1084.2 Z" fill="#3e3a39"/>
<line x1="463.5" y1="885" x2="463.5" y2="1000.4" stroke="#3e3a39" stroke-width="1" /><path d="M463.5 885 L464.8 889.5 L462.2 889.5 Z" fill="#3e3a39"/><path d="M463.5 1000.4 L462.2 995.9 L464.8 995.9 Z" fill="#3e3a39"/>
<line x1="463.5" y1="1000.4" x2="463.5" y2="1041.4" stroke="#3e3a39" stroke-width="1" /><path d="M463.5 1000.4 L464.8 1004.9 L462.2 1004.9 Z" fill="#3e3a39"/><path d="M463.5 1041.4 L462.2 1036.9 L464.8 1036.9 Z" fill="#3e3a39"/><line x1="463.5" y1="1041.4" x2="463.5" y2="1088.7" stroke="#3e3a39" stroke-width="1" /><path d="M463.5 1041.4 L464.8 1045.9 L462.2 1045.9 Z" fill="#3e3a39"/><path d="M463.5 1088.7 L462.2 1084.2 L464.8 1084.2 Z" fill="#3e3a39"/>
<rect x="519.7" y="845" width="19.6" height="13.3" fill="#8f8d8b" stroke="#3e3a39" stroke-width="1" /><line x1="520.2" y1="847.22" x2="538.8" y2="847.22" stroke="#e6e6e6" stroke-width="1.55" /><line x1="520.2" y1="851.65" x2="538.8" y2="851.65" stroke="#e6e6e6" stroke-width="1.55" /><line x1="520.2" y1="856.08" x2="538.8" y2="856.08" stroke="#e6e6e6" stroke-width="1.55" />
<rect x="519.7" y="858.3" width="19.6" height="31" fill="#dededd" stroke="#3e3a39" stroke-width="1.1" />
<path d="M479.79 884.4 H516.4 V1000.4 H479.79 L475.5 996.4 V888.4 L479.79 884.4 Z" fill="#dededd" stroke="#3e3a39" stroke-width="1.2" /><line x1="479.79" y1="885.4" x2="479.79" y2="999.4" stroke="#3e3a39" stroke-width="0.9" /><path d="M487.77 884.4 V892 H497.15 V884.4" fill="none" stroke="#3e3a39" stroke-width="1" /><line x1="475.5" y1="894.2" x2="516.4" y2="894.2" stroke="#3e3a39" stroke-width="1" /><line x1="477" y1="898.7" x2="516.4" y2="898.7" stroke="#3e3a39" stroke-width="2" /><line x1="477" y1="904.8" x2="516.4" y2="904.8" stroke="#3e3a39" stroke-width="2" /><line x1="479.49" y1="912" x2="516.4" y2="912" stroke="#3e3a39" stroke-width="2.4" /><line x1="475.5" y1="990.6" x2="516.4" y2="990.6" stroke="#3e3a39" stroke-width="1" /><line x1="477" y1="986.1" x2="516.4" y2="986.1" stroke="#3e3a39" stroke-width="2" /><line x1="477" y1="980" x2="516.4" y2="980" stroke="#3e3a39" stroke-width="2" /><line x1="479.49" y1="972.8" x2="516.4" y2="972.8" stroke="#3e3a39" stroke-width="2.4" /><line x1="477.99" y1="914.4" x2="477.99" y2="970.4" stroke="#3e3a39" stroke-width="0.8" /><circle cx="477.59" cy="915" r="1.9" fill="#fff" stroke="#3e3a39" stroke-width="0.9"/><circle cx="477.59" cy="969.8" r="1.9" fill="#fff" stroke="#3e3a39" stroke-width="0.9"/><path d="M483.68 928.5 Q492.66 925 501.64 928.5 V956.3 Q492.66 959.8 483.68 956.3 Z" fill="none" stroke="#3e3a39" stroke-width="1.1" />
<rect x="516.4" y="889.3" width="31.9" height="106.5" fill="#dededd" stroke="#3e3a39" stroke-width="1.2" /><line x1="544" y1="889.3" x2="544" y2="995.8" stroke="#3e3a39" stroke-width="1.8" /><path d="M519.7 889.3 Q529.5 894.3 539.3 889.3" fill="none" stroke="#3e3a39" stroke-width="1.1" /><path d="M521.5 995.8 Q529.9 990.8 538.3 995.8" fill="none" stroke="#3e3a39" stroke-width="1.1" />
<path d="M548.3 926.5 H568.8 A16 16 0 0 1 568.8 958.5 H548.3 Z" fill="#dededd" stroke="#3e3a39" stroke-width="1.1" /><circle cx="568.8" cy="942.5" r="6.2" fill="#fff" stroke="#3e3a39" stroke-width="1.1"/>
<rect x="521.8" y="995.8" width="16.5" height="45.6" fill="#dededd" stroke="#3e3a39" stroke-width="1.1" />
<rect x="524.9" y="1041.4" width="10.3" height="18.6" fill="#dededd" stroke="#3e3a39" stroke-width="1" />
<rect x="526.5" y="1060" width="6.8" height="13.3" fill="#bbb" stroke="#3e3a39" stroke-width="0.9" rx="2"/>
<rect x="525.05" y="1073.3" width="9.5" height="8.36" fill="#777" stroke="#3e3a39" stroke-width="0.8" /><line x1="529.8" y1="1073.3" x2="529.8" y2="1081.66" stroke="#ddd" stroke-width="0.8" /><path d="M525.55 1081.66 L534.05 1081.66 L530.8 1088.5 L528.8 1088.5 Z" fill="#dededd" stroke="#3e3a39" stroke-width="1" />
<line x1="530" y1="827" x2="530" y2="1092" stroke="#3e3a39" stroke-width="1" stroke-dasharray="38 6 6.5 6"/>
<line x1="440" y1="942.5" x2="588" y2="942.5" stroke="#3e3a39" stroke-width="1" stroke-dasharray="38 6 6.5 6"/>
<line x1="547.5" y1="877.9" x2="547.5" y2="889.3" stroke="#3e3a39" stroke-width="1" />
<line x1="530" y1="882" x2="564" y2="882" stroke="#3e3a39" stroke-width="1" /><path d="M530 882 L534.5 880.7 L534.5 883.3 Z" fill="#3e3a39"/><path d="M547.5 882 L543 883.3 L543 880.7 Z" fill="#3e3a39"/>
<line x1="548.3" y1="926.5" x2="602.4" y2="926.5" stroke="#3e3a39" stroke-width="1" /><line x1="548.3" y1="958.4" x2="602.4" y2="958.4" stroke="#3e3a39" stroke-width="1" />
<line x1="599.9" y1="926.5" x2="599.9" y2="958.4" stroke="#3e3a39" stroke-width="1" /><path d="M599.9 926.5 L601.2 931 L598.6 931 Z" fill="#3e3a39"/><path d="M599.9 958.4 L598.6 953.9 L601.2 953.9 Z" fill="#3e3a39"/>
<line x1="548.3" y1="889.3" x2="623.8" y2="889.3" stroke="#3e3a39" stroke-width="1" /><line x1="548.3" y1="995.8" x2="623.8" y2="995.8" stroke="#3e3a39" stroke-width="1" />
<line x1="620.9" y1="889.3" x2="620.9" y2="995.8" stroke="#3e3a39" stroke-width="1" /><path d="M620.9 889.3 L622.2 893.8 L619.6 893.8 Z" fill="#3e3a39"/><path d="M620.9 995.8 L619.6 991.3 L622.2 991.3 Z" fill="#3e3a39"/>
<line x1="557" y1="954.4" x2="602" y2="910.2" stroke="#3e3a39" stroke-width="1" /><path d="M564.6 947 L566.86 942.9 L568.7 944.74 Z" fill="#3e3a39"/>
<line x1="521.8" y1="1025.5" x2="592.7" y2="1025.5" stroke="#3e3a39" stroke-width="1" /><path d="M521.8 1025.5 L517.3 1026.8 L517.3 1024.2 Z" fill="#3e3a39"/><path d="M538.3 1025.5 L542.8 1024.2 L542.8 1026.8 Z" fill="#3e3a39"/>
<line x1="488.9" y1="1057.8" x2="540.3" y2="1057.8" stroke="#3e3a39" stroke-width="1" /><path d="M524.9 1057.8 L520.4 1059.1 L520.4 1056.5 Z" fill="#3e3a39"/><path d="M535.2 1057.8 L539.7 1056.5 L539.7 1059.1 Z" fill="#3e3a39"/>
<path d="M619.5 1059.9 L539.3 1059.9 L532.1 1070.2" fill="none" stroke="#3e3a39" stroke-width="1" />
<path d="M535.2 864.5 L546.5 858.3 L595.8 858.3" fill="none" stroke="#e60012" stroke-width="1.5" />
<text x="495.21" y="834.7" font-size="15.8" fill="#231815">28</text>
<text x="537.71" y="834.7" font-size="15.8" fill="#231815">21</text>
<text x="546.82" y="854.2" font-size="17.01" fill="#231815">can lift</text>
<text x="547.32" y="878.9" font-size="15.8" fill="#231815">10</text>
<text transform="translate(443.7 898.51) rotate(-90)" font-size="15.8" fill="#231815">50</text>
<text transform="translate(443.7 1023.45) rotate(-90)" font-size="15.8" fill="#231815">75</text>
<text transform="translate(463 947.79) rotate(-90)" font-size="15.8" fill="#231815">Ø58</text>
<text transform="translate(463 1028.57) rotate(-90)" font-size="15.8" fill="#231815">22</text>
<text transform="translate(463 1073.93) rotate(-90)" font-size="15.8" fill="#231815">24</text>
<text transform="translate(598 950.25) rotate(-90)" font-size="15.8" fill="#231815">16</text>
<text transform="translate(619.1 961.24) rotate(-90)" font-size="15.8" fill="#231815">Ø53.5</text>
<text transform="translate(592 908) rotate(-45)" font-size="16" fill="#231815" text-anchor="middle">Ø6.5</text>
<text x="542.8" y="1021.8" font-size="17.14" fill="#231815">Ø8</text>
<text x="569.1" y="1013.6" font-size="10" fill="#231815">0</text>
<text x="565" y="1022.8" font-size="11" fill="#231815">-0.009</text>
<text x="488.35" y="1055.8" font-size="15.74" fill="#231815">Ø4.5</text>
<text x="544.16" y="1056.8" font-size="16.7" fill="#231815">M2.5x0.45</text>
<text x="497.17" y="1122.6" font-size="16.68" fill="#231815">2103-10</text>
<text x="497.17" y="1141.1" font-size="16.68" fill="#231815">2104-10</text>
<line x1="706.7" y1="851.7" x2="802.8" y2="851.7" stroke="#3e3a39" stroke-width="1" />
<line x1="727.2" y1="912.2" x2="751" y2="912.2" stroke="#3e3a39" stroke-width="1" />
<line x1="727.3" y1="1020" x2="751" y2="1020" stroke="#3e3a39" stroke-width="1" />
<line x1="727.3" y1="1067.2" x2="795" y2="1067.2" stroke="#3e3a39" stroke-width="1" />
<line x1="727.3" y1="1108.5" x2="796" y2="1108.5" stroke="#3e3a39" stroke-width="1" />
<line x1="707.3" y1="1184.3" x2="802.8" y2="1184.3" stroke="#3e3a39" stroke-width="1" />
<line x1="748.4" y1="831.5" x2="748.4" y2="912.2" stroke="#3e3a39" stroke-width="1" />
<line x1="845.2" y1="831.5" x2="845.2" y2="849" stroke="#3e3a39" stroke-width="1" /><line x1="845.2" y1="875" x2="845.2" y2="965.8" stroke="#3e3a39" stroke-width="1" />
<line x1="748.4" y1="835.7" x2="802.8" y2="835.7" stroke="#3e3a39" stroke-width="1" /><path d="M748.4 835.7 L752.9 834.4 L752.9 837 Z" fill="#3e3a39"/><path d="M802.8 835.7 L798.3 837 L798.3 834.4 Z" fill="#3e3a39"/><line x1="802.8" y1="835.7" x2="845.2" y2="835.7" stroke="#3e3a39" stroke-width="1" /><path d="M802.8 835.7 L807.3 834.4 L807.3 837 Z" fill="#3e3a39"/><path d="M845.2 835.7 L840.7 837 L840.7 834.4 Z" fill="#3e3a39"/>
<line x1="709.2" y1="851.7" x2="709.2" y2="965.8" stroke="#3e3a39" stroke-width="1" /><path d="M709.2 851.7 L710.5 856.2 L707.9 856.2 Z" fill="#3e3a39"/><path d="M709.2 965.8 L707.9 961.3 L710.5 961.3 Z" fill="#3e3a39"/><line x1="709.2" y1="965.8" x2="709.2" y2="1184.3" stroke="#3e3a39" stroke-width="1" /><path d="M709.2 965.8 L710.5 970.3 L707.9 970.3 Z" fill="#3e3a39"/><path d="M709.2 1184.3 L707.9 1179.8 L710.5 1179.8 Z" fill="#3e3a39"/>
<line x1="729.7" y1="912.2" x2="729.7" y2="1020" stroke="#3e3a39" stroke-width="1" /><path d="M729.7 912.2 L731 916.7 L728.4 916.7 Z" fill="#3e3a39"/><path d="M729.7 1020 L728.4 1015.5 L731 1015.5 Z" fill="#3e3a39"/><line x1="729.7" y1="1020" x2="729.7" y2="1067.2" stroke="#3e3a39" stroke-width="1" /><path d="M729.7 1020 L731 1024.5 L728.4 1024.5 Z" fill="#3e3a39"/><path d="M729.7 1067.2 L728.4 1062.7 L731 1062.7 Z" fill="#3e3a39"/><line x1="729.7" y1="1067.2" x2="729.7" y2="1108.5" stroke="#3e3a39" stroke-width="1" /><path d="M729.7 1067.2 L731 1071.7 L728.4 1071.7 Z" fill="#3e3a39"/><path d="M729.7 1108.5 L728.4 1104 L731 1104 Z" fill="#3e3a39"/><line x1="729.7" y1="1108.5" x2="729.7" y2="1184.3" stroke="#3e3a39" stroke-width="1" /><path d="M729.7 1108.5 L731 1113 L728.4 1113 Z" fill="#3e3a39"/><path d="M729.7 1184.3 L728.4 1179.8 L731 1179.8 Z" fill="#3e3a39"/>
<rect x="790.1" y="859.3" width="25.4" height="57.5" fill="#dededd" stroke="#3e3a39" stroke-width="1.1" /><path d="M788.9 859.3 V854.7 Q802.85 849.2 816.8 854.7 V859.3 Z" fill="#dededd" stroke="#3e3a39" stroke-width="1.1" />
<path d="M754.01 912.2 H786.5 V1020 H754.01 L750.2 1016.28 V915.92 L754.01 912.2 Z" fill="#dededd" stroke="#3e3a39" stroke-width="1.2" /><line x1="754.01" y1="913.13" x2="754.01" y2="1019.07" stroke="#3e3a39" stroke-width="0.9" /><path d="M761.09 912.2 V919.26 H769.41 V912.2" fill="none" stroke="#3e3a39" stroke-width="1" /><line x1="750.2" y1="921.31" x2="786.5" y2="921.31" stroke="#3e3a39" stroke-width="1" /><line x1="751.53" y1="925.49" x2="786.5" y2="925.49" stroke="#3e3a39" stroke-width="2" /><line x1="751.53" y1="931.16" x2="786.5" y2="931.16" stroke="#3e3a39" stroke-width="2" /><line x1="753.74" y1="937.85" x2="786.5" y2="937.85" stroke="#3e3a39" stroke-width="2.4" /><line x1="750.2" y1="1010.89" x2="786.5" y2="1010.89" stroke="#3e3a39" stroke-width="1" /><line x1="751.53" y1="1006.71" x2="786.5" y2="1006.71" stroke="#3e3a39" stroke-width="2" /><line x1="751.53" y1="1001.04" x2="786.5" y2="1001.04" stroke="#3e3a39" stroke-width="2" /><line x1="753.74" y1="994.35" x2="786.5" y2="994.35" stroke="#3e3a39" stroke-width="2.4" /><line x1="752.41" y1="940.08" x2="752.41" y2="992.12" stroke="#3e3a39" stroke-width="0.8" /><circle cx="752.06" cy="940.64" r="1.68" fill="#fff" stroke="#3e3a39" stroke-width="0.9"/><circle cx="752.06" cy="991.56" r="1.68" fill="#fff" stroke="#3e3a39" stroke-width="0.9"/><path d="M757.46 953.18 Q765.43 949.93 773.4 953.18 V979.02 Q765.43 982.27 757.46 979.02 Z" fill="none" stroke="#3e3a39" stroke-width="1.1" />
<rect x="786.5" y="915.6" width="39.3" height="100.4" fill="#dededd" stroke="#3e3a39" stroke-width="1.2" /><line x1="821.5" y1="915.6" x2="821.5" y2="1016" stroke="#3e3a39" stroke-width="1.8" /><path d="M790.1 915.6 Q802.8 920.6 815.5 915.6" fill="none" stroke="#3e3a39" stroke-width="1.1" /><path d="M790.5 1016 Q802.8 1011 815.1 1016" fill="none" stroke="#3e3a39" stroke-width="1.1" />
<path d="M825.8 948.8 H845.2 A17 17 0 0 1 845.2 982.8 H825.8 Z" fill="#dededd" stroke="#3e3a39" stroke-width="1.1" /><circle cx="845.2" cy="965.8" r="7.6" fill="#fff" stroke="#3e3a39" stroke-width="1.1"/>
<path d="M790.5 1016 V1057.2 L791.7 1067.2 H813.9 L815.1 1057.2 V1016" fill="#dededd" stroke="#3e3a39" stroke-width="1.1" /><line x1="790.5" y1="1057.2" x2="815.1" y2="1057.2" stroke="#3e3a39" stroke-width="1" />
<rect x="795.5" y="1067.2" width="15.6" height="41.3" fill="#dededd" stroke="#3e3a39" stroke-width="1.1" />
<rect x="798.5" y="1108.5" width="9.3" height="51.2" fill="#dededd" stroke="#3e3a39" stroke-width="1" />
<rect x="797.75" y="1159.7" width="10.5" height="13.53" fill="#777" stroke="#3e3a39" stroke-width="0.8" /><line x1="803" y1="1159.7" x2="803" y2="1173.23" stroke="#ddd" stroke-width="0.8" /><path d="M798.25 1173.23 L807.75 1173.23 L804 1184.3 L802 1184.3 Z" fill="#dededd" stroke="#3e3a39" stroke-width="1" />
<line x1="802.8" y1="828" x2="802.8" y2="1190" stroke="#3e3a39" stroke-width="1" stroke-dasharray="38 6 6.5 6"/>
<line x1="706.7" y1="965.8" x2="862" y2="965.8" stroke="#3e3a39" stroke-width="1" stroke-dasharray="38 6 6.5 6"/>
<line x1="826.4" y1="893.2" x2="826.4" y2="915.6" stroke="#3e3a39" stroke-width="1" />
<line x1="802.8" y1="895.3" x2="840.3" y2="895.3" stroke="#3e3a39" stroke-width="1" /><path d="M802.8 895.3 L807.3 894 L807.3 896.6 Z" fill="#3e3a39"/><path d="M826.4 895.3 L821.9 896.6 L821.9 894 Z" fill="#3e3a39"/>
<line x1="825.8" y1="948.9" x2="880.3" y2="948.9" stroke="#3e3a39" stroke-width="1" /><line x1="825.8" y1="982.7" x2="880.3" y2="982.7" stroke="#3e3a39" stroke-width="1" />
<line x1="877.9" y1="948.9" x2="877.9" y2="982.7" stroke="#3e3a39" stroke-width="1" /><path d="M877.9 948.9 L879.2 953.4 L876.6 953.4 Z" fill="#3e3a39"/><path d="M877.9 982.7 L876.6 978.2 L879.2 978.2 Z" fill="#3e3a39"/>
<line x1="825.8" y1="915.6" x2="898.4" y2="915.6" stroke="#3e3a39" stroke-width="1" /><line x1="825.8" y1="1016" x2="899" y2="1016" stroke="#3e3a39" stroke-width="1" />
<line x1="896" y1="915.6" x2="896" y2="1016" stroke="#3e3a39" stroke-width="1" /><path d="M896 915.6 L897.3 920.1 L894.7 920.1 Z" fill="#3e3a39"/><path d="M896 1016 L894.7 1011.5 L897.3 1011.5 Z" fill="#3e3a39"/>
<line x1="834.3" y1="979.1" x2="871.8" y2="933.1" stroke="#3e3a39" stroke-width="1" /><path d="M840 972 L842.26 967.9 L844.1 969.74 Z" fill="#3e3a39"/>
<line x1="795.5" y1="1088.5" x2="861.7" y2="1088.5" stroke="#3e3a39" stroke-width="1" /><path d="M795.5 1088.5 L791 1089.8 L791 1087.2 Z" fill="#3e3a39"/><path d="M811.1 1088.5 L815.6 1087.2 L815.6 1089.8 Z" fill="#3e3a39"/>
<line x1="761.9" y1="1128.4" x2="814.4" y2="1128.4" stroke="#3e3a39" stroke-width="1" /><path d="M798.5 1128.4 L794 1129.7 L794 1127.1 Z" fill="#3e3a39"/><path d="M807.8 1128.4 L812.3 1127.1 L812.3 1129.7 Z" fill="#3e3a39"/>
<path d="M886.3 1150.4 L813.8 1150.4 L805.8 1160.3" fill="none" stroke="#3e3a39" stroke-width="1" />
<path d="M809.5 875 L821.6 867.8 L893.6 867.8" fill="none" stroke="#e60012" stroke-width="1.5" />
<text x="768.81" y="834.5" font-size="15.8" fill="#231815">28</text>
<text x="817.21" y="834.5" font-size="15.8" fill="#231815">23</text>
<text x="820.93" y="863.6" font-size="16.72" fill="#231815">cannot lift</text>
<text x="823.42" y="893.2" font-size="15.8" fill="#231815">12</text>
<text transform="translate(708.6 914.99) rotate(-90)" font-size="15.8" fill="#231815">60</text>
<text transform="translate(708.6 1075.7) rotate(-90)" font-size="15.8" fill="#231815">117</text>
<text transform="translate(729 979.19) rotate(-90)" font-size="15.8" fill="#231815">Ø58</text>
<text transform="translate(728.6 1052.45) rotate(-90)" font-size="15.8" fill="#231815">25</text>
<text transform="translate(728.6 1097.22) rotate(-90)" font-size="15.8" fill="#231815">22</text>
<text transform="translate(728.6 1152.27) rotate(-90)" font-size="15.8" fill="#231815">41</text>
<text transform="translate(876 974.55) rotate(-90)" font-size="15.8" fill="#231815">16</text>
<text transform="translate(895.4 988.79) rotate(-90)" font-size="15.8" fill="#231815">Ø53.5</text>
<text transform="translate(868 934) rotate(-50)" font-size="16" fill="#231815" text-anchor="middle">Ø6.5</text>
<text x="813.81" y="1086.5" font-size="16.9" fill="#231815">Ø8</text>
<text x="841.6" y="1077.2" font-size="10" fill="#231815">0</text>
<text x="836.5" y="1086.5" font-size="11" fill="#231815">-0.009</text>
<text x="761.32" y="1125.1" font-size="16.56" fill="#231815">Ø4.5</text>
<text x="812.48" y="1147" font-size="16.53" fill="#231815">M2.5x0.45</text>
<text x="829.56" y="1194.3" font-size="16.73" fill="#231815">2103-25</text>
<text x="829.56" y="1211.6" font-size="16.73" fill="#231815">2104-25</text>
<line x1="1022" y1="861.6" x2="1119.4" y2="861.6" stroke="#3e3a39" stroke-width="1" />
<line x1="1042.6" y1="920.1" x2="1066" y2="920.1" stroke="#3e3a39" stroke-width="1" />
<line x1="1042.6" y1="1029.3" x2="1066" y2="1029.3" stroke="#3e3a39" stroke-width="1" />
<line x1="1042.6" y1="1077.2" x2="1110" y2="1077.2" stroke="#3e3a39" stroke-width="1" />
<line x1="1042.6" y1="1119.1" x2="1112" y2="1119.1" stroke="#3e3a39" stroke-width="1" />
<line x1="1022" y1="1196.3" x2="1119.4" y2="1196.3" stroke="#3e3a39" stroke-width="1" />
<line x1="1063.9" y1="839" x2="1063.9" y2="920.1" stroke="#3e3a39" stroke-width="1" />
<line x1="1063.9" y1="843" x2="1119.4" y2="843" stroke="#3e3a39" stroke-width="1" /><path d="M1063.9 843 L1068.4 841.7 L1068.4 844.3 Z" fill="#3e3a39"/><path d="M1119.4 843 L1114.9 844.3 L1114.9 841.7 Z" fill="#3e3a39"/>
<line x1="1024.6" y1="861.6" x2="1024.6" y2="974.4" stroke="#3e3a39" stroke-width="1" /><path d="M1024.6 861.6 L1025.9 866.1 L1023.3 866.1 Z" fill="#3e3a39"/><path d="M1024.6 974.4 L1023.3 969.9 L1025.9 969.9 Z" fill="#3e3a39"/><line x1="1024.6" y1="974.4" x2="1024.6" y2="1196.3" stroke="#3e3a39" stroke-width="1" /><path d="M1024.6 974.4 L1025.9 978.9 L1023.3 978.9 Z" fill="#3e3a39"/><path d="M1024.6 1196.3 L1023.3 1191.8 L1025.9 1191.8 Z" fill="#3e3a39"/>
<line x1="1045.5" y1="920.1" x2="1045.5" y2="1029.3" stroke="#3e3a39" stroke-width="1" /><path d="M1045.5 920.1 L1046.8 924.6 L1044.2 924.6 Z" fill="#3e3a39"/><path d="M1045.5 1029.3 L1044.2 1024.8 L1046.8 1024.8 Z" fill="#3e3a39"/><line x1="1045.5" y1="1029.3" x2="1045.5" y2="1077.2" stroke="#3e3a39" stroke-width="1" /><path d="M1045.5 1029.3 L1046.8 1033.8 L1044.2 1033.8 Z" fill="#3e3a39"/><path d="M1045.5 1077.2 L1044.2 1072.7 L1046.8 1072.7 Z" fill="#3e3a39"/><line x1="1045.5" y1="1077.2" x2="1045.5" y2="1119.1" stroke="#3e3a39" stroke-width="1" /><path d="M1045.5 1077.2 L1046.8 1081.7 L1044.2 1081.7 Z" fill="#3e3a39"/><path d="M1045.5 1119.1 L1044.2 1114.6 L1046.8 1114.6 Z" fill="#3e3a39"/><line x1="1045.5" y1="1119.1" x2="1045.5" y2="1196.3" stroke="#3e3a39" stroke-width="1" /><path d="M1045.5 1119.1 L1046.8 1123.6 L1044.2 1123.6 Z" fill="#3e3a39"/><path d="M1045.5 1196.3 L1044.2 1191.8 L1046.8 1191.8 Z" fill="#3e3a39"/>
<rect x="1110.5" y="826.3" width="17.3" height="10" fill="#8f8d8b" stroke="#3e3a39" stroke-width="1" /><line x1="1111" y1="827.97" x2="1127.3" y2="827.97" stroke="#e6e6e6" stroke-width="1.17" /><line x1="1111" y1="831.3" x2="1127.3" y2="831.3" stroke="#e6e6e6" stroke-width="1.17" /><line x1="1111" y1="834.63" x2="1127.3" y2="834.63" stroke="#e6e6e6" stroke-width="1.17" />
<rect x="1110.5" y="836.3" width="17.3" height="25.3" fill="#dededd" stroke="#3e3a39" stroke-width="1.1" />
<rect x="1106.5" y="866.2" width="25.3" height="59.2" fill="#dededd" stroke="#3e3a39" stroke-width="1.1" />
<rect x="1105.5" y="861.6" width="27.6" height="4.6" fill="#dededd" stroke="#3e3a39" stroke-width="1" rx="1.5"/>
<path d="M1067.95 920.1 H1102.5 V1029.3 H1067.95 L1063.9 1025.53 V923.87 L1067.95 920.1 Z" fill="#dededd" stroke="#3e3a39" stroke-width="1.2" /><line x1="1067.95" y1="921.04" x2="1067.95" y2="1028.36" stroke="#3e3a39" stroke-width="0.9" /><path d="M1075.48 920.1 V927.25 H1084.33 V920.1" fill="none" stroke="#3e3a39" stroke-width="1" /><line x1="1063.9" y1="929.33" x2="1102.5" y2="929.33" stroke="#3e3a39" stroke-width="1" /><line x1="1065.31" y1="933.56" x2="1102.5" y2="933.56" stroke="#3e3a39" stroke-width="2" /><line x1="1065.31" y1="939.3" x2="1102.5" y2="939.3" stroke="#3e3a39" stroke-width="2" /><line x1="1067.67" y1="946.08" x2="1102.5" y2="946.08" stroke="#3e3a39" stroke-width="2.4" /><line x1="1063.9" y1="1020.07" x2="1102.5" y2="1020.07" stroke="#3e3a39" stroke-width="1" /><line x1="1065.31" y1="1015.84" x2="1102.5" y2="1015.84" stroke="#3e3a39" stroke-width="2" /><line x1="1065.31" y1="1010.1" x2="1102.5" y2="1010.1" stroke="#3e3a39" stroke-width="2" /><line x1="1067.67" y1="1003.32" x2="1102.5" y2="1003.32" stroke="#3e3a39" stroke-width="2.4" /><line x1="1066.25" y1="948.34" x2="1066.25" y2="1001.06" stroke="#3e3a39" stroke-width="0.8" /><circle cx="1065.88" cy="948.91" r="1.79" fill="#fff" stroke="#3e3a39" stroke-width="0.9"/><circle cx="1065.88" cy="1000.49" r="1.79" fill="#fff" stroke="#3e3a39" stroke-width="0.9"/><path d="M1071.62 961.61 Q1080.09 958.32 1088.57 961.61 V987.79 Q1080.09 991.08 1071.62 987.79 Z" fill="none" stroke="#3e3a39" stroke-width="1.1" />
<rect x="1102.5" y="924.1" width="40.5" height="101.8" fill="#dededd" stroke="#3e3a39" stroke-width="1.2" /><line x1="1138.7" y1="924.1" x2="1138.7" y2="1025.9" stroke="#3e3a39" stroke-width="1.8" /><path d="M1106.5 924.1 Q1119.15 929.1 1131.8 924.1" fill="none" stroke="#3e3a39" stroke-width="1.1" /><path d="M1106.5 1025.9 Q1119.35 1020.9 1132.2 1025.9" fill="none" stroke="#3e3a39" stroke-width="1.1" />
<path d="M1106.5 1025.9 V1067.2 L1107.7 1077.2 H1131 L1132.2 1067.2 V1025.9" fill="#dededd" stroke="#3e3a39" stroke-width="1.1" /><line x1="1106.5" y1="1067.2" x2="1132.2" y2="1067.2" stroke="#3e3a39" stroke-width="1" />
<rect x="1111.8" y="1077.2" width="15.6" height="41.9" fill="#dededd" stroke="#3e3a39" stroke-width="1.1" />
<rect x="1114.5" y="1119.1" width="9.7" height="52.6" fill="#dededd" stroke="#3e3a39" stroke-width="1" />
<rect x="1114.5" y="1171.7" width="10" height="13.53" fill="#777" stroke="#3e3a39" stroke-width="0.8" /><line x1="1119.5" y1="1171.7" x2="1119.5" y2="1185.23" stroke="#ddd" stroke-width="0.8" /><path d="M1115 1185.23 L1124 1185.23 L1120.5 1196.3 L1118.5 1196.3 Z" fill="#dededd" stroke="#3e3a39" stroke-width="1" />
<line x1="1119.4" y1="820" x2="1119.4" y2="1202" stroke="#3e3a39" stroke-width="1" stroke-dasharray="38 6 6.5 6"/>
<line x1="1022" y1="974.4" x2="1147.7" y2="974.4" stroke="#3e3a39" stroke-width="1" stroke-dasharray="38 6 6.5 6"/>
<line x1="1143" y1="906.2" x2="1143" y2="924.1" stroke="#3e3a39" stroke-width="1" />
<line x1="1119.4" y1="909.2" x2="1163" y2="909.2" stroke="#3e3a39" stroke-width="1" /><path d="M1119.4 909.2 L1123.9 907.9 L1123.9 910.5 Z" fill="#3e3a39"/><path d="M1143 909.2 L1138.5 910.5 L1138.5 907.9 Z" fill="#3e3a39"/>
<line x1="1111.8" y1="1105.2" x2="1179" y2="1105.2" stroke="#3e3a39" stroke-width="1" /><path d="M1111.8 1105.2 L1107.3 1106.5 L1107.3 1103.9 Z" fill="#3e3a39"/><path d="M1127.4 1105.2 L1131.9 1103.9 L1131.9 1106.5 Z" fill="#3e3a39"/>
<line x1="1073.6" y1="1147.1" x2="1131.8" y2="1147.1" stroke="#3e3a39" stroke-width="1" /><path d="M1114.5 1147.1 L1110 1148.4 L1110 1145.8 Z" fill="#3e3a39"/><path d="M1124.2 1147.1 L1128.7 1145.8 L1128.7 1148.4 Z" fill="#3e3a39"/>
<path d="M1208.3 1167.1 L1127.1 1167.1 L1121.8 1175" fill="none" stroke="#3e3a39" stroke-width="1" />
<path d="M1123.1 849.6 L1135.1 842.3 L1184.3 842.3" fill="none" stroke="#e60012" stroke-width="1.5" />
<text x="1081.71" y="841" font-size="15.8" fill="#231815">28</text>
<text x="1135.03" y="839" font-size="16.65" fill="#231815">can lift</text>
<text x="1142.52" y="907.5" font-size="15.8" fill="#231815">12</text>
<text transform="translate(1023.3 926.69) rotate(-90)" font-size="15.8" fill="#231815">60</text>
<text transform="translate(1023.3 1098.35) rotate(-90)" font-size="15.8" fill="#231815">117</text>
<text transform="translate(1044.6 990.19) rotate(-90)" font-size="15.8" fill="#231815">Ø58</text>
<text transform="translate(1044.3 1062.45) rotate(-90)" font-size="15.8" fill="#231815">25</text>
<text transform="translate(1044.3 1107.62) rotate(-90)" font-size="15.8" fill="#231815">22</text>
<text transform="translate(1044.3 1166.62) rotate(-90)" font-size="15.8" fill="#231815">41</text>
<text x="1129.23" y="1102.5" font-size="16.35" fill="#231815">Ø8</text>
<text x="1156" y="1093.9" font-size="10" fill="#231815">0</text>
<text x="1152.61" y="1103.8" font-size="11" fill="#231815">-0.009</text>
<text x="1073.03" y="1144.4" font-size="16.36" fill="#231815">Ø4.5</text>
<text x="1127.06" y="1163.7" font-size="16.8" fill="#231815">M2.5X0.45</text>
<text x="1149.57" y="1210.3" font-size="16.65" fill="#231815">2103-25P</text>
<text x="1149.57" y="1229.6" font-size="16.65" fill="#231815">2104-25P</text>
<line x1="1333.6" y1="836.8" x2="1436.2" y2="836.8" stroke="#3e3a39" stroke-width="1" />
<line x1="1354.9" y1="959.7" x2="1380" y2="959.7" stroke="#3e3a39" stroke-width="1" />
<line x1="1355" y1="1075.4" x2="1380" y2="1075.4" stroke="#3e3a39" stroke-width="1" />
<line x1="1355" y1="1174.2" x2="1428" y2="1174.2" stroke="#3e3a39" stroke-width="1" />
<line x1="1355" y1="1219.4" x2="1429" y2="1219.4" stroke="#3e3a39" stroke-width="1" />
<line x1="1333.4" y1="1341.4" x2="1436.2" y2="1341.4" stroke="#3e3a39" stroke-width="1" />
<line x1="1377.7" y1="824.5" x2="1377.7" y2="959.7" stroke="#3e3a39" stroke-width="1" />
<line x1="1481.6" y1="824.5" x2="1481.6" y2="849" stroke="#3e3a39" stroke-width="1" /><line x1="1481.6" y1="872.6" x2="1481.6" y2="1017.4" stroke="#3e3a39" stroke-width="1" />
<line x1="1377.7" y1="827.6" x2="1436.2" y2="827.6" stroke="#3e3a39" stroke-width="1" /><path d="M1377.7 827.6 L1382.2 826.3 L1382.2 828.9 Z" fill="#3e3a39"/><path d="M1436.2 827.6 L1431.7 828.9 L1431.7 826.3 Z" fill="#3e3a39"/><line x1="1436.2" y1="827.6" x2="1481.6" y2="827.6" stroke="#3e3a39" stroke-width="1" /><path d="M1436.2 827.6 L1440.7 826.3 L1440.7 828.9 Z" fill="#3e3a39"/><path d="M1481.6 827.6 L1477.1 828.9 L1477.1 826.3 Z" fill="#3e3a39"/>
<line x1="1336" y1="836.8" x2="1336" y2="1017.4" stroke="#3e3a39" stroke-width="1" /><path d="M1336 836.8 L1337.3 841.3 L1334.7 841.3 Z" fill="#3e3a39"/><path d="M1336 1017.4 L1334.7 1012.9 L1337.3 1012.9 Z" fill="#3e3a39"/><line x1="1336" y1="1017.4" x2="1336" y2="1341.4" stroke="#3e3a39" stroke-width="1" /><path d="M1336 1017.4 L1337.3 1021.9 L1334.7 1021.9 Z" fill="#3e3a39"/><path d="M1336 1341.4 L1334.7 1336.9 L1337.3 1336.9 Z" fill="#3e3a39"/>
<line x1="1357.8" y1="959.7" x2="1357.8" y2="1075.4" stroke="#3e3a39" stroke-width="1" /><path d="M1357.8 959.7 L1359.1 964.2 L1356.5 964.2 Z" fill="#3e3a39"/><path d="M1357.8 1075.4 L1356.5 1070.9 L1359.1 1070.9 Z" fill="#3e3a39"/><line x1="1357.8" y1="1075.4" x2="1357.8" y2="1174.2" stroke="#3e3a39" stroke-width="1" /><path d="M1357.8 1075.4 L1359.1 1079.9 L1356.5 1079.9 Z" fill="#3e3a39"/><path d="M1357.8 1174.2 L1356.5 1169.7 L1359.1 1169.7 Z" fill="#3e3a39"/><line x1="1357.8" y1="1174.2" x2="1357.8" y2="1219.4" stroke="#3e3a39" stroke-width="1" /><path d="M1357.8 1174.2 L1359.1 1178.7 L1356.5 1178.7 Z" fill="#3e3a39"/><path d="M1357.8 1219.4 L1356.5 1214.9 L1359.1 1214.9 Z" fill="#3e3a39"/><line x1="1357.8" y1="1219.4" x2="1357.8" y2="1341.4" stroke="#3e3a39" stroke-width="1" /><path d="M1357.8 1219.4 L1359.1 1223.9 L1356.5 1223.9 Z" fill="#3e3a39"/><path d="M1357.8 1341.4 L1356.5 1336.9 L1359.1 1336.9 Z" fill="#3e3a39"/>
<rect x="1422.6" y="845.4" width="27.2" height="118.9" fill="#dededd" stroke="#3e3a39" stroke-width="1.1" /><path d="M1421.3 845.4 V839.8 Q1435.8 834.3 1450.3 839.8 V845.4 Z" fill="#dededd" stroke="#3e3a39" stroke-width="1.1" />
<path d="M1381.93 959.7 H1418 V1076.8 H1381.93 L1377.7 1072.76 V963.74 L1381.93 959.7 Z" fill="#dededd" stroke="#3e3a39" stroke-width="1.2" /><line x1="1381.93" y1="960.71" x2="1381.93" y2="1075.79" stroke="#3e3a39" stroke-width="0.9" /><path d="M1389.79 959.7 V967.37 H1399.03 V959.7" fill="none" stroke="#3e3a39" stroke-width="1" /><line x1="1377.7" y1="969.59" x2="1418" y2="969.59" stroke="#3e3a39" stroke-width="1" /><line x1="1379.17" y1="974.14" x2="1418" y2="974.14" stroke="#3e3a39" stroke-width="2" /><line x1="1379.17" y1="980.29" x2="1418" y2="980.29" stroke="#3e3a39" stroke-width="2" /><line x1="1381.63" y1="987.56" x2="1418" y2="987.56" stroke="#3e3a39" stroke-width="2.4" /><line x1="1377.7" y1="1066.91" x2="1418" y2="1066.91" stroke="#3e3a39" stroke-width="1" /><line x1="1379.17" y1="1062.36" x2="1418" y2="1062.36" stroke="#3e3a39" stroke-width="2" /><line x1="1379.17" y1="1056.21" x2="1418" y2="1056.21" stroke="#3e3a39" stroke-width="2" /><line x1="1381.63" y1="1048.94" x2="1418" y2="1048.94" stroke="#3e3a39" stroke-width="2.4" /><line x1="1380.16" y1="989.98" x2="1380.16" y2="1046.52" stroke="#3e3a39" stroke-width="0.8" /><circle cx="1379.76" cy="990.59" r="1.87" fill="#fff" stroke="#3e3a39" stroke-width="0.9"/><circle cx="1379.76" cy="1045.91" r="1.87" fill="#fff" stroke="#3e3a39" stroke-width="0.9"/><path d="M1385.76 1004.22 Q1394.61 1000.69 1403.45 1004.22 V1032.28 Q1394.61 1035.82 1385.76 1032.28 Z" fill="none" stroke="#3e3a39" stroke-width="1.1" />
<rect x="1418" y="963.4" width="43.6" height="108.9" fill="#dededd" stroke="#3e3a39" stroke-width="1.2" /><line x1="1457.3" y1="963.4" x2="1457.3" y2="1072.3" stroke="#3e3a39" stroke-width="1.8" /><path d="M1422.6 963.4 Q1436.2 968.4 1449.8 963.4" fill="none" stroke="#3e3a39" stroke-width="1.1" /><path d="M1422.4 1072.3 Q1436 1067.3 1449.6 1072.3" fill="none" stroke="#3e3a39" stroke-width="1.1" />
<path d="M1461.6 999.4 H1481.6 A18 18 0 0 1 1481.6 1035.4 H1461.6 Z" fill="#dededd" stroke="#3e3a39" stroke-width="1.1" /><circle cx="1481.6" cy="1017.4" r="8.6" fill="#fff" stroke="#3e3a39" stroke-width="1.1"/>
<path d="M1422.4 1072.3 V1164.2 L1423.6 1174.2 H1448.4 L1449.6 1164.2 V1072.3" fill="#dededd" stroke="#3e3a39" stroke-width="1.1" /><line x1="1422.4" y1="1164.2" x2="1449.6" y2="1164.2" stroke="#3e3a39" stroke-width="1" />
<rect x="1428.6" y="1174.2" width="15.9" height="45.2" fill="#dededd" stroke="#3e3a39" stroke-width="1.1" />
<rect x="1431.1" y="1219.4" width="10.3" height="95.7" fill="#dededd" stroke="#3e3a39" stroke-width="1" />
<rect x="1431.05" y="1315.1" width="10.5" height="14.13" fill="#777" stroke="#3e3a39" stroke-width="0.8" /><line x1="1436.3" y1="1315.1" x2="1436.3" y2="1329.23" stroke="#ddd" stroke-width="0.8" /><path d="M1431.55 1329.23 L1441.05 1329.23 L1437.3 1340.8 L1435.3 1340.8 Z" fill="#dededd" stroke="#3e3a39" stroke-width="1" />
<line x1="1436.2" y1="822" x2="1436.2" y2="1346" stroke="#3e3a39" stroke-width="1" stroke-dasharray="38 6 6.5 6"/>
<line x1="1331.8" y1="1017.4" x2="1499.7" y2="1017.4" stroke="#3e3a39" stroke-width="1" stroke-dasharray="38 6 6.5 6"/>
<line x1="1461.2" y1="896.2" x2="1461.2" y2="963.4" stroke="#3e3a39" stroke-width="1" />
<line x1="1436.2" y1="898.4" x2="1478.3" y2="898.4" stroke="#3e3a39" stroke-width="1" /><path d="M1436.2 898.4 L1440.7 897.1 L1440.7 899.7 Z" fill="#3e3a39"/><path d="M1461.2 898.4 L1456.7 899.7 L1456.7 897.1 Z" fill="#3e3a39"/>
<line x1="1461.6" y1="999.7" x2="1517" y2="999.7" stroke="#3e3a39" stroke-width="1" /><line x1="1461.6" y1="1036" x2="1517" y2="1036" stroke="#3e3a39" stroke-width="1" />
<line x1="1515.7" y1="999.7" x2="1515.7" y2="1036" stroke="#3e3a39" stroke-width="1" /><path d="M1515.7 999.7 L1517 1004.2 L1514.4 1004.2 Z" fill="#3e3a39"/><path d="M1515.7 1036 L1514.4 1031.5 L1517 1031.5 Z" fill="#3e3a39"/>
<line x1="1461.6" y1="963.4" x2="1539.6" y2="963.4" stroke="#3e3a39" stroke-width="1" /><line x1="1461.6" y1="1072.3" x2="1539.6" y2="1072.3" stroke="#3e3a39" stroke-width="1" />
<line x1="1536.9" y1="963.4" x2="1536.9" y2="1072.3" stroke="#3e3a39" stroke-width="1" /><path d="M1536.9 963.4 L1538.2 967.9 L1535.6 967.9 Z" fill="#3e3a39"/><path d="M1536.9 1072.3 L1535.6 1067.8 L1538.2 1067.8 Z" fill="#3e3a39"/>
<line x1="1470.7" y1="1032.3" x2="1510.6" y2="984.2" stroke="#3e3a39" stroke-width="1" /><path d="M1476 1026 L1478.26 1021.9 L1480.1 1023.74 Z" fill="#3e3a39"/>
<line x1="1428.6" y1="1202.4" x2="1502" y2="1202.4" stroke="#3e3a39" stroke-width="1" /><path d="M1428.6 1202.4 L1424.1 1203.7 L1424.1 1201.1 Z" fill="#3e3a39"/><path d="M1444.5 1202.4 L1449 1201.1 L1449 1203.7 Z" fill="#3e3a39"/>
<line x1="1393.6" y1="1262.2" x2="1447.5" y2="1262.2" stroke="#3e3a39" stroke-width="1" /><path d="M1431.1 1262.2 L1426.6 1263.5 L1426.6 1260.9 Z" fill="#3e3a39"/><path d="M1441.4 1262.2 L1445.9 1260.9 L1445.9 1263.5 Z" fill="#3e3a39"/>
<path d="M1527.8 1300.3 L1449.6 1300.3 L1440.3 1317.2" fill="none" stroke="#3e3a39" stroke-width="1" />
<path d="M1443.1 876.2 L1455.2 869 L1526.9 869" fill="none" stroke="#e60012" stroke-width="1.5" />
<text x="1397.61" y="825.4" font-size="15.8" fill="#231815">28</text>
<text x="1449.91" y="825.4" font-size="15.8" fill="#231815">23</text>
<text x="1454.53" y="865.3" font-size="16.86" fill="#231815">cannot lift</text>
<text x="1458.62" y="896.2" font-size="15.8" fill="#231815">12</text>
<text transform="translate(1335.4 931.23) rotate(-90)" font-size="15.8" fill="#231815">87</text>
<text transform="translate(1335.4 1176.82) rotate(-90)" font-size="15.8" fill="#231815">160</text>
<text transform="translate(1356.3 1023.64) rotate(-90)" font-size="15.8" fill="#231815">Ø58</text>
<text transform="translate(1356.6 1128.26) rotate(-90)" font-size="15.8" fill="#231815">48</text>
<text transform="translate(1356.6 1205.02) rotate(-90)" font-size="15.8" fill="#231815">22</text>
<text transform="translate(1356.6 1286.86) rotate(-90)" font-size="15.8" fill="#231815">61</text>
<text transform="translate(1513.3 1026.85) rotate(-90)" font-size="15.8" fill="#231815">16</text>
<text transform="translate(1534.2 1044.74) rotate(-90)" font-size="15.8" fill="#231815">Ø53.5</text>
<text transform="translate(1503 981) rotate(-45)" font-size="15" fill="#231815" text-anchor="middle">Ø6.5</text>
<text x="1446.93" y="1199.9" font-size="16.35" fill="#231815">Ø8</text>
<text x="1473.94" y="1189.2" font-size="9" fill="#231815">0</text>
<text x="1470.71" y="1199.9" font-size="11" fill="#231815">-0.009</text>
<text x="1393.03" y="1259.5" font-size="16.17" fill="#231815">Ø4.5</text>
<text x="1450.36" y="1295.5" font-size="16.73" fill="#231815">M2.5x0.45</text>
<text x="1411.77" y="1373.7" font-size="16.62" fill="#231815">2103-50</text>
<text x="1411.77" y="1392.2" font-size="16.62" fill="#231815">2104-50</text>
<rect x="113.7" y="1166.1" width="8" height="8" fill="#231815"/>
<text x="134.2" y="1178" font-size="21.4" letter-spacing="0.36" fill="#231815">Reading in digital and analog</text>
<rect x="113.7" y="1190.5" width="8" height="8" fill="#231815"/>
<text x="134.2" y="1202.4" font-size="21.4" letter-spacing="0.36" fill="#231815">Display can be rotated by 320°</text>
<rect x="113.7" y="1214.9" width="8" height="8" fill="#231815"/>
<text x="134.2" y="1226.8" font-size="21.4" letter-spacing="0.36" fill="#231815">Button function: tolerance Go and No-Go display, data preset,</text>
<text x="134.2" y="1251.8" font-size="21.4" letter-spacing="0.36" fill="#231815">measuring direction change, max./min./TIR measurement,</text>
<text x="134.2" y="1276.8" font-size="21.4" letter-spacing="0.36" fill="#231815">inch/metric conversion, absolute/incremental measurement</text>
<rect x="113.7" y="1289.7" width="8" height="8" fill="#231815"/>
<text x="134.2" y="1301.6" font-size="21.4" letter-spacing="0.36" fill="#231815">Keep preset data and tolerance data in memory after restart</text>
<rect x="113.7" y="1314.5" width="8" height="8" fill="#231815"/>
<text x="134.2" y="1326.4" font-size="21.4" letter-spacing="0.36" fill="#231815">CR2032 battery, automatic power off (time is adjustable), data output</text>
<rect x="113.7" y="1339.3" width="8" height="8" fill="#231815"/>
<text x="134.2" y="1351.2" font-size="21.4" letter-spacing="0.36" fill="#231815">Optional accessory: data output cable (code <tspan font-weight="bold">7315-50M,</tspan></text>
<text x="134.2" y="1375.6" font-size="21.4" letter-spacing="0.36" fill="#231815"><tspan font-weight="bold">7302-40M, 7305-40M</tspan>), backs,</text>
<text x="134.2" y="1400.2" font-size="21.4" letter-spacing="0.36" fill="#231815">contact points</text>
<text x="932.52" y="1255.3" font-size="19.64" fill="#231815">max./min./TIR</text><rect x="851.9" y="1264.4" width="282.9" height="138.5" rx="8" fill="none" stroke="#dcdcdc" stroke-width="5"/><rect x="856.5" y="1268.4" width="274.2" height="130.4" rx="5" fill="#fff" stroke="#231815" stroke-width="1.3"/><text x="869.64" y="1381" font-size="19.45" fill="#231815">max./min./TIR measurement</text><line x1="886" y1="1342.5" x2="1103.5" y2="1342.5" stroke="#231815" stroke-width="1.2" /><path d="M889.5 1342.5 L882 1353.8 M895.05 1342.5 L887.55 1353.8 M900.6 1342.5 L893.1 1353.8 M906.15 1342.5 L898.65 1353.8 M911.7 1342.5 L904.2 1353.8 M917.25 1342.5 L909.75 1353.8 M922.8 1342.5 L915.3 1353.8 M928.35 1342.5 L920.85 1353.8 M933.9 1342.5 L926.4 1353.8 M939.45 1342.5 L931.95 1353.8 M945 1342.5 L937.5 1353.8 M950.55 1342.5 L943.05 1353.8 M956.1 1342.5 L948.6 1353.8 M961.65 1342.5 L954.15 1353.8 M967.2 1342.5 L959.7 1353.8 M972.75 1342.5 L965.25 1353.8 M978.3 1342.5 L970.8 1353.8 M983.85 1342.5 L976.35 1353.8 M989.4 1342.5 L981.9 1353.8 M994.95 1342.5 L987.45 1353.8 M1000.5 1342.5 L993 1353.8 M1006.05 1342.5 L998.55 1353.8 M1011.6 1342.5 L1004.1 1353.8 M1017.15 1342.5 L1009.65 1353.8 M1022.7 1342.5 L1015.2 1353.8 M1028.25 1342.5 L1020.75 1353.8 M1033.8 1342.5 L1026.3 1353.8 M1039.35 1342.5 L1031.85 1353.8 M1044.9 1342.5 L1037.4 1353.8 M1050.45 1342.5 L1042.95 1353.8 M1056 1342.5 L1048.5 1353.8 M1061.55 1342.5 L1054.05 1353.8 M1067.1 1342.5 L1059.6 1353.8 M1072.65 1342.5 L1065.15 1353.8 M1078.2 1342.5 L1070.7 1353.8 M1083.75 1342.5 L1076.25 1353.8 M1089.3 1342.5 L1081.8 1353.8 M1094.85 1342.5 L1087.35 1353.8 M1100.4 1342.5 L1092.9 1353.8" stroke="#231815" stroke-width="1" fill="none"/><path d="M886 1326.6 C897 1309 906 1294.7 918.8 1294.7 C935 1294.7 945 1327.5 960 1327.5 C975 1327.5 985 1284.4 999.4 1284.4 C1012 1284.4 1018 1336.9 1029.4 1336.9 C1042 1336.9 1050 1295.6 1063.2 1295.6 C1069 1295.6 1073 1301 1076.3 1307.8" fill="none" stroke="#231815" stroke-width="2.6" /><line x1="917.8" y1="1284" x2="999.4" y2="1284" stroke="#231815" stroke-width="1" /><line x1="958.2" y1="1338.2" x2="1057.6" y2="1338.2" stroke="#231815" stroke-width="1" /><line x1="918.8" y1="1285" x2="918.8" y2="1342.5" stroke="#231815" stroke-width="0.9" /><path d="M918.8 1285 L920 1289 L917.6 1289 Z" fill="#3e3a39"/><path d="M918.8 1342 L917.6 1338 L920 1338 Z" fill="#3e3a39"/><line x1="959.1" y1="1285" x2="959.1" y2="1338" stroke="#231815" stroke-width="0.9" /><path d="M959.1 1285 L960.3 1289 L957.9 1289 Z" fill="#3e3a39"/><path d="M959.1 1338 L957.9 1334 L960.3 1334 Z" fill="#3e3a39"/><path d="M1064 1320 L1056.6 1320 L1056.6 1359" fill="none" stroke="#231815" stroke-width="0.9" /><path d="M1056.6 1338 L1055.4 1334 L1057.8 1334 Z" fill="#3e3a39"/><text x="899.73" y="1320" font-size="19.55" fill="#231815">max.</text><text x="943.62" y="1312.5" font-size="18.9" fill="#231815">TIR</text><text x="1066.6" y="1322.8" font-size="20.06" fill="#231815">min.</text>
<text x="1471.73" y="806.9" font-size="16.99" fill="#231815">Unit: mm</text>
</svg></body></html>
